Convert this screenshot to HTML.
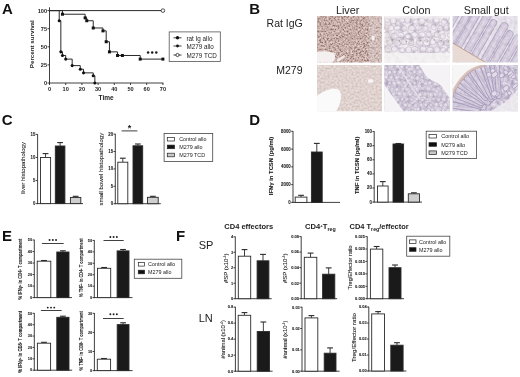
<!DOCTYPE html>
<html><head><meta charset="utf-8"><style>
html,body{margin:0;padding:0;background:#fff;width:520px;height:377px;overflow:hidden;position:relative;font-family:"Liberation Sans", sans-serif;}
</style></head><body>
<svg width="520" height="377" viewBox="0 0 520 377" style="position:absolute;left:0;top:0;filter:blur(0.4px)" font-family='"Liberation Sans", sans-serif'>
<rect width="520" height="377" fill="#fff"/>
<text x="1.90" y="13.80" font-size="15" text-anchor="start" font-weight="bold" fill="#111" >A</text>
<text x="249.20" y="13.80" font-size="15" text-anchor="start" font-weight="bold" fill="#111" >B</text>
<text x="1.70" y="124.90" font-size="15" text-anchor="start" font-weight="bold" fill="#111" >C</text>
<text x="249.20" y="124.90" font-size="15" text-anchor="start" font-weight="bold" fill="#111" >D</text>
<text x="1.90" y="240.60" font-size="15" text-anchor="start" font-weight="bold" fill="#111" >E</text>
<text x="176.00" y="240.60" font-size="15" text-anchor="start" font-weight="bold" fill="#111" >F</text>
<line x1="49.50" y1="7.30" x2="49.50" y2="83.50" stroke="#2a2a2a" stroke-width="0.9"/>
<line x1="49.00" y1="83.00" x2="163.40" y2="83.00" stroke="#2a2a2a" stroke-width="0.9"/>
<line x1="47.50" y1="83.00" x2="49.50" y2="83.00" stroke="#2a2a2a" stroke-width="0.9"/>
<text x="47.10" y="85.00" font-size="5.6" text-anchor="end" font-weight="bold" fill="#222" >0</text>
<line x1="47.50" y1="64.90" x2="49.50" y2="64.90" stroke="#2a2a2a" stroke-width="0.9"/>
<text x="47.10" y="66.90" font-size="5.6" text-anchor="end" font-weight="bold" fill="#222" >25</text>
<line x1="47.50" y1="46.80" x2="49.50" y2="46.80" stroke="#2a2a2a" stroke-width="0.9"/>
<text x="47.10" y="48.80" font-size="5.6" text-anchor="end" font-weight="bold" fill="#222" >50</text>
<line x1="47.50" y1="28.70" x2="49.50" y2="28.70" stroke="#2a2a2a" stroke-width="0.9"/>
<text x="47.10" y="30.70" font-size="5.6" text-anchor="end" font-weight="bold" fill="#222" >75</text>
<line x1="47.50" y1="10.60" x2="49.50" y2="10.60" stroke="#2a2a2a" stroke-width="0.9"/>
<text x="47.10" y="12.60" font-size="5.6" text-anchor="end" font-weight="bold" fill="#222" >100</text>
<line x1="49.50" y1="83.00" x2="49.50" y2="85.00" stroke="#2a2a2a" stroke-width="0.9"/>
<text x="49.50" y="91.00" font-size="5.6" text-anchor="middle" font-weight="bold" fill="#222" >0</text>
<line x1="65.70" y1="83.00" x2="65.70" y2="85.00" stroke="#2a2a2a" stroke-width="0.9"/>
<text x="65.70" y="91.00" font-size="5.6" text-anchor="middle" font-weight="bold" fill="#222" >10</text>
<line x1="81.90" y1="83.00" x2="81.90" y2="85.00" stroke="#2a2a2a" stroke-width="0.9"/>
<text x="81.90" y="91.00" font-size="5.6" text-anchor="middle" font-weight="bold" fill="#222" >20</text>
<line x1="98.10" y1="83.00" x2="98.10" y2="85.00" stroke="#2a2a2a" stroke-width="0.9"/>
<text x="98.10" y="91.00" font-size="5.6" text-anchor="middle" font-weight="bold" fill="#222" >30</text>
<line x1="114.30" y1="83.00" x2="114.30" y2="85.00" stroke="#2a2a2a" stroke-width="0.9"/>
<text x="114.30" y="91.00" font-size="5.6" text-anchor="middle" font-weight="bold" fill="#222" >40</text>
<line x1="130.50" y1="83.00" x2="130.50" y2="85.00" stroke="#2a2a2a" stroke-width="0.9"/>
<text x="130.50" y="91.00" font-size="5.6" text-anchor="middle" font-weight="bold" fill="#222" >50</text>
<line x1="146.70" y1="83.00" x2="146.70" y2="85.00" stroke="#2a2a2a" stroke-width="0.9"/>
<text x="146.70" y="91.00" font-size="5.6" text-anchor="middle" font-weight="bold" fill="#222" >60</text>
<line x1="162.90" y1="83.00" x2="162.90" y2="85.00" stroke="#2a2a2a" stroke-width="0.9"/>
<text x="162.90" y="91.00" font-size="5.6" text-anchor="middle" font-weight="bold" fill="#222" >70</text>
<text x="106.10" y="99.90" font-size="6.5" text-anchor="middle" font-weight="bold" fill="#222" >Time</text>
<text x="34.20" y="44.20" font-size="6.2" text-anchor="middle" font-weight="bold" fill="#222" textLength="48.00" lengthAdjust="spacingAndGlyphs" transform="rotate(-90 34.20 44.20)" >Percent survival</text>
<line x1="49.50" y1="10.60" x2="162.90" y2="10.60" stroke="#2a2a2a" stroke-width="1.0"/>
<circle cx="162.90" cy="10.60" r="1.8" fill="#fff" stroke="#222" stroke-width="0.8"/>
<path d="M49.50,10.60 L59.22,10.60 L59.22,20.74 L60.84,20.74 L60.84,51.87 L62.46,51.87 L62.46,55.49 L65.70,55.49 L65.70,59.11 L72.18,59.11 L72.18,65.62 L80.28,65.62 L80.28,69.24 L83.52,69.24 L83.52,72.86 L93.24,72.86 L93.24,75.76 L94.86,75.76 L94.86,83.00" fill="none" stroke="#2a2a2a" stroke-width="1.0"/>
<circle cx="59.22" cy="20.74" r="1.55" fill="#111"/>
<circle cx="60.84" cy="51.87" r="1.55" fill="#111"/>
<circle cx="62.46" cy="55.49" r="1.55" fill="#111"/>
<circle cx="65.70" cy="59.11" r="1.55" fill="#111"/>
<circle cx="72.18" cy="65.62" r="1.55" fill="#111"/>
<circle cx="80.28" cy="69.24" r="1.55" fill="#111"/>
<circle cx="83.52" cy="72.86" r="1.55" fill="#111"/>
<circle cx="93.24" cy="75.76" r="1.55" fill="#111"/>
<circle cx="94.86" cy="83.00" r="1.55" fill="#111"/>
<path d="M49.50,10.60 L62.46,10.60 L62.46,14.22 L85.14,14.22 L85.14,17.84 L86.76,17.84 L86.76,20.74 L93.24,20.74 L93.24,27.98 L102.96,27.98 L102.96,30.87 L106.20,30.87 L106.20,41.73 L109.44,41.73 L109.44,51.87 L117.54,51.87 L117.54,55.49 L122.40,55.49 L122.40,55.49 L140.22,55.49 L140.22,59.11 L162.90,59.11 L162.90,59.11" fill="none" stroke="#2a2a2a" stroke-width="1.0"/>
<rect x="60.96" y="12.72" width="3" height="3" fill="#111"/>
<rect x="83.64" y="16.34" width="3" height="3" fill="#111"/>
<rect x="85.26" y="19.24" width="3" height="3" fill="#111"/>
<rect x="91.74" y="26.48" width="3" height="3" fill="#111"/>
<rect x="101.46" y="29.37" width="3" height="3" fill="#111"/>
<rect x="104.70" y="40.23" width="3" height="3" fill="#111"/>
<rect x="107.94" y="50.37" width="3" height="3" fill="#111"/>
<rect x="116.04" y="53.99" width="3" height="3" fill="#111"/>
<rect x="120.90" y="53.99" width="3" height="3" fill="#111"/>
<rect x="138.72" y="57.61" width="3" height="3" fill="#111"/>
<rect x="161.40" y="57.61" width="3" height="3" fill="#111"/>
<circle cx="148.1" cy="52.5" r="1.25" fill="#1a1a1a"/>
<circle cx="152.2" cy="52.5" r="1.25" fill="#1a1a1a"/>
<circle cx="156.3" cy="52.5" r="1.25" fill="#1a1a1a"/>
<rect x="169.20" y="31.90" width="51.10" height="29.60" fill="#fff" stroke="#555" stroke-width="0.8"/>
<line x1="173.50" y1="37.80" x2="181.50" y2="37.80" stroke="#2a2a2a" stroke-width="0.9"/>
<circle cx="177.5" cy="37.80" r="1.7" fill="#111"/>
<text x="186.50" y="40.50" font-size="6.3" text-anchor="start" font-weight="normal" fill="#222" >rat Ig allo</text>
<line x1="173.50" y1="46.00" x2="181.50" y2="46.00" stroke="#2a2a2a" stroke-width="0.9"/>
<circle cx="177.5" cy="46.00" r="1.4" fill="#111"/>
<text x="186.50" y="48.70" font-size="6.3" text-anchor="start" font-weight="normal" fill="#222" >M279 allo</text>
<line x1="173.50" y1="55.00" x2="181.50" y2="55.00" stroke="#2a2a2a" stroke-width="0.9"/>
<circle cx="177.5" cy="55.00" r="1.6" fill="#fff" stroke="#222" stroke-width="0.8"/>
<text x="186.50" y="57.70" font-size="6.3" text-anchor="start" font-weight="normal" fill="#222" >M279 TCD</text>
<text x="347.60" y="13.70" font-size="10.8" text-anchor="middle" font-weight="normal" fill="#1e1e1e" >Liver</text>
<text x="416.40" y="13.70" font-size="10.8" text-anchor="middle" font-weight="normal" fill="#1e1e1e" >Colon</text>
<text x="486.20" y="13.70" font-size="10.8" text-anchor="middle" font-weight="normal" fill="#1e1e1e" >Small gut</text>
<text x="302.80" y="26.80" font-size="10.5" text-anchor="end" font-weight="normal" fill="#222" >Rat IgG</text>
<text x="302.50" y="73.80" font-size="10.5" text-anchor="end" font-weight="normal" fill="#222" >M279</text>
<defs>
<filter id="fLT" x="0" y="0" width="1" height="1" color-interpolation-filters="sRGB" filterUnits="objectBoundingBox"><feTurbulence type="fractalNoise" baseFrequency="0.55" numOctaves="2" seed="7" result="n"/><feColorMatrix in="n" type="matrix" values="1 0 0 0 0  1 0 0 0 0  1 0 0 0 0  0 0 0 0 1" result="g"/><feComponentTransfer in="g" result="s"><feFuncR type="linear" slope="2.0" intercept="-0.5"/><feFuncG type="linear" slope="2.0" intercept="-0.5"/><feFuncB type="linear" slope="2.0" intercept="-0.5"/></feComponentTransfer><feComponentTransfer in="s"><feFuncR type="table" tableValues="0.569 0.737 0.824 0.902"/><feFuncG type="table" tableValues="0.443 0.635 0.729 0.824"/><feFuncB type="table" tableValues="0.424 0.612 0.706 0.808"/></feComponentTransfer><feGaussianBlur stdDeviation="0.6"/></filter>
<filter id="fLB" x="0" y="0" width="1" height="1" color-interpolation-filters="sRGB" filterUnits="objectBoundingBox"><feTurbulence type="fractalNoise" baseFrequency="0.5" numOctaves="3" seed="11" result="n"/><feColorMatrix in="n" type="matrix" values="1 0 0 0 0  1 0 0 0 0  1 0 0 0 0  0 0 0 0 1" result="g"/><feComponentTransfer in="g" result="s"><feFuncR type="linear" slope="1.8" intercept="-0.4"/><feFuncG type="linear" slope="1.8" intercept="-0.4"/><feFuncB type="linear" slope="1.8" intercept="-0.4"/></feComponentTransfer><feComponentTransfer in="s"><feFuncR type="table" tableValues="0.816 0.878 0.925"/><feFuncG type="table" tableValues="0.757 0.827 0.878"/><feFuncB type="table" tableValues="0.745 0.812 0.867"/></feComponentTransfer><feGaussianBlur stdDeviation="0.6"/></filter>
<filter id="fCT" x="0" y="0" width="1" height="1" color-interpolation-filters="sRGB" filterUnits="objectBoundingBox"><feTurbulence type="fractalNoise" baseFrequency="0.22" numOctaves="3" seed="5" result="n"/><feColorMatrix in="n" type="matrix" values="1 0 0 0 0  1 0 0 0 0  1 0 0 0 0  0 0 0 0 1" result="g"/><feComponentTransfer in="g" result="s"><feFuncR type="linear" slope="2.2" intercept="-0.6"/><feFuncG type="linear" slope="2.2" intercept="-0.6"/><feFuncB type="linear" slope="2.2" intercept="-0.6"/></feComponentTransfer><feComponentTransfer in="s"><feFuncR type="table" tableValues="0.745 0.855 0.922 0.957"/><feFuncG type="table" tableValues="0.706 0.824 0.894 0.941"/><feFuncB type="table" tableValues="0.753 0.863 0.918 0.957"/></feComponentTransfer><feGaussianBlur stdDeviation="0.6"/></filter>
<filter id="fCB" x="0" y="0" width="1" height="1" color-interpolation-filters="sRGB" filterUnits="objectBoundingBox"><feTurbulence type="fractalNoise" baseFrequency="0.28" numOctaves="3" seed="9" result="n"/><feColorMatrix in="n" type="matrix" values="1 0 0 0 0  1 0 0 0 0  1 0 0 0 0  0 0 0 0 1" result="g"/><feComponentTransfer in="g" result="s"><feFuncR type="linear" slope="2.0" intercept="-0.5"/><feFuncG type="linear" slope="2.0" intercept="-0.5"/><feFuncB type="linear" slope="2.0" intercept="-0.5"/></feComponentTransfer><feComponentTransfer in="s"><feFuncR type="table" tableValues="0.698 0.816 0.902"/><feFuncG type="table" tableValues="0.667 0.784 0.878"/><feFuncB type="table" tableValues="0.753 0.847 0.918"/></feComponentTransfer><feGaussianBlur stdDeviation="0.6"/></filter>
<filter id="fST" x="0" y="0" width="1" height="1" color-interpolation-filters="sRGB" filterUnits="objectBoundingBox"><feTurbulence type="fractalNoise" baseFrequency="0.28" numOctaves="3" seed="13" result="n"/><feColorMatrix in="n" type="matrix" values="1 0 0 0 0  1 0 0 0 0  1 0 0 0 0  0 0 0 0 1" result="g"/><feComponentTransfer in="g" result="s"><feFuncR type="linear" slope="2.0" intercept="-0.5"/><feFuncG type="linear" slope="2.0" intercept="-0.5"/><feFuncB type="linear" slope="2.0" intercept="-0.5"/></feComponentTransfer><feComponentTransfer in="s"><feFuncR type="table" tableValues="0.706 0.831 0.918"/><feFuncG type="table" tableValues="0.675 0.804 0.898"/><feFuncB type="table" tableValues="0.761 0.863 0.933"/></feComponentTransfer><feGaussianBlur stdDeviation="0.6"/></filter>
<filter id="fSB" x="0" y="0" width="1" height="1" color-interpolation-filters="sRGB" filterUnits="objectBoundingBox"><feTurbulence type="fractalNoise" baseFrequency="0.28" numOctaves="3" seed="17" result="n"/><feColorMatrix in="n" type="matrix" values="1 0 0 0 0  1 0 0 0 0  1 0 0 0 0  0 0 0 0 1" result="g"/><feComponentTransfer in="g" result="s"><feFuncR type="linear" slope="2.0" intercept="-0.5"/><feFuncG type="linear" slope="2.0" intercept="-0.5"/><feFuncB type="linear" slope="2.0" intercept="-0.5"/></feComponentTransfer><feComponentTransfer in="s"><feFuncR type="table" tableValues="0.675 0.808 0.910"/><feFuncG type="table" tableValues="0.643 0.776 0.886"/><feFuncB type="table" tableValues="0.745 0.847 0.925"/></feComponentTransfer><feGaussianBlur stdDeviation="0.6"/></filter>
<filter id="soft" x="-5%" y="-5%" width="110%" height="110%"><feGaussianBlur stdDeviation="0.55"/></filter>
<clipPath id="cplt"><rect x="317" y="16" width="65" height="46.5"/></clipPath>
<clipPath id="cpct"><rect x="384.3" y="16" width="65.6" height="46.5"/></clipPath>
<clipPath id="cpst"><rect x="452.6" y="16" width="65.2" height="46.5"/></clipPath>
<clipPath id="cplb"><rect x="317" y="65" width="65" height="46.3"/></clipPath>
<clipPath id="cpcb"><rect x="384.3" y="65" width="65.6" height="46.3"/></clipPath>
<clipPath id="cpsb"><rect x="452.6" y="65" width="65.2" height="46.3"/></clipPath>
</defs>
<g clip-path="url(#cplt)"><g filter="url(#soft)">
<rect x="317" y="16" width="65" height="46.5" filter="url(#fLT)"/>
<rect x="369" y="16" width="13" height="46.5" fill="#e6dcdc" opacity="0.35"/>
<path d="M317,52 Q325,50 334,53 Q337,57 333,62.5 L317,62.5 Z" fill="#f4f0ef"/>
<path d="M336,60 L344,55 L345,57 L338,62 Z" fill="#eee6e4"/>
<ellipse cx="373" cy="38" rx="1.6" ry="2.4" fill="#f6f2f2"/>
</g></g>
<g clip-path="url(#cplb)"><g filter="url(#soft)">
<rect x="317" y="65" width="65" height="46.3" filter="url(#fLB)"/>
<path d="M317,96 Q323,91 331,89 Q340,87 341,95 Q341,104 336,111.3 L317,111.3 Z" fill="#fbfafa"/>
<ellipse cx="370.5" cy="81" rx="2.6" ry="2" fill="#f8f6f6"/>
</g></g>
<g clip-path="url(#cpct)"><g filter="url(#soft)">
<rect x="384.3" y="16" width="65.6" height="46.5" filter="url(#fCT)"/>
<ellipse cx="386.8" cy="20.2" rx="2.9" ry="2.5" fill="#f1edf2" fill-opacity="0.55" stroke="#b9aec4" stroke-width="0.7" stroke-opacity="0.75"/>
<ellipse cx="393.4" cy="20.8" rx="3.3" ry="3.0" fill="#f1edf2" fill-opacity="0.55" stroke="#b9aec4" stroke-width="0.7" stroke-opacity="0.75"/>
<ellipse cx="401.8" cy="20.4" rx="3.0" ry="2.6" fill="#f1edf2" fill-opacity="0.55" stroke="#b9aec4" stroke-width="0.7" stroke-opacity="0.75"/>
<ellipse cx="407.6" cy="20.2" rx="2.8" ry="3.1" fill="#f1edf2" fill-opacity="0.55" stroke="#b9aec4" stroke-width="0.7" stroke-opacity="0.75"/>
<ellipse cx="416.0" cy="21.6" rx="3.2" ry="2.6" fill="#f1edf2" fill-opacity="0.55" stroke="#b9aec4" stroke-width="0.7" stroke-opacity="0.75"/>
<ellipse cx="421.9" cy="21.3" rx="3.2" ry="3.1" fill="#f1edf2" fill-opacity="0.55" stroke="#b9aec4" stroke-width="0.7" stroke-opacity="0.75"/>
<ellipse cx="430.1" cy="20.2" rx="3.1" ry="2.9" fill="#f1edf2" fill-opacity="0.55" stroke="#b9aec4" stroke-width="0.7" stroke-opacity="0.75"/>
<ellipse cx="436.3" cy="20.4" rx="3.0" ry="2.5" fill="#f1edf2" fill-opacity="0.55" stroke="#b9aec4" stroke-width="0.7" stroke-opacity="0.75"/>
<ellipse cx="444.2" cy="21.7" rx="3.0" ry="2.6" fill="#f1edf2" fill-opacity="0.55" stroke="#b9aec4" stroke-width="0.7" stroke-opacity="0.75"/>
<ellipse cx="451.1" cy="21.1" rx="3.3" ry="3.1" fill="#f1edf2" fill-opacity="0.55" stroke="#b9aec4" stroke-width="0.7" stroke-opacity="0.75"/>
<ellipse cx="390.8" cy="28.0" rx="3.1" ry="2.7" fill="#f1edf2" fill-opacity="0.55" stroke="#b9aec4" stroke-width="0.7" stroke-opacity="0.75"/>
<ellipse cx="397.1" cy="27.8" rx="3.3" ry="2.4" fill="#f1edf2" fill-opacity="0.55" stroke="#b9aec4" stroke-width="0.7" stroke-opacity="0.75"/>
<ellipse cx="403.9" cy="28.5" rx="2.8" ry="2.8" fill="#f1edf2" fill-opacity="0.55" stroke="#b9aec4" stroke-width="0.7" stroke-opacity="0.75"/>
<ellipse cx="411.7" cy="27.9" rx="3.4" ry="2.6" fill="#f1edf2" fill-opacity="0.55" stroke="#b9aec4" stroke-width="0.7" stroke-opacity="0.75"/>
<ellipse cx="418.6" cy="27.6" rx="3.1" ry="2.6" fill="#f1edf2" fill-opacity="0.55" stroke="#b9aec4" stroke-width="0.7" stroke-opacity="0.75"/>
<ellipse cx="425.5" cy="28.7" rx="2.9" ry="2.8" fill="#f1edf2" fill-opacity="0.55" stroke="#b9aec4" stroke-width="0.7" stroke-opacity="0.75"/>
<ellipse cx="433.6" cy="27.4" rx="2.6" ry="2.6" fill="#f1edf2" fill-opacity="0.55" stroke="#b9aec4" stroke-width="0.7" stroke-opacity="0.75"/>
<ellipse cx="440.3" cy="28.4" rx="2.8" ry="2.7" fill="#f1edf2" fill-opacity="0.55" stroke="#b9aec4" stroke-width="0.7" stroke-opacity="0.75"/>
<ellipse cx="446.2" cy="28.1" rx="2.6" ry="3.0" fill="#f1edf2" fill-opacity="0.55" stroke="#b9aec4" stroke-width="0.7" stroke-opacity="0.75"/>
<ellipse cx="454.6" cy="29.1" rx="3.2" ry="3.2" fill="#f1edf2" fill-opacity="0.55" stroke="#b9aec4" stroke-width="0.7" stroke-opacity="0.75"/>
<ellipse cx="386.3" cy="35.0" rx="3.4" ry="3.0" fill="#f1edf2" fill-opacity="0.55" stroke="#b9aec4" stroke-width="0.7" stroke-opacity="0.75"/>
<ellipse cx="394.1" cy="36.3" rx="3.1" ry="3.1" fill="#f1edf2" fill-opacity="0.55" stroke="#b9aec4" stroke-width="0.7" stroke-opacity="0.75"/>
<ellipse cx="400.9" cy="34.8" rx="3.0" ry="2.5" fill="#f1edf2" fill-opacity="0.55" stroke="#b9aec4" stroke-width="0.7" stroke-opacity="0.75"/>
<ellipse cx="408.1" cy="36.3" rx="2.9" ry="2.4" fill="#f1edf2" fill-opacity="0.55" stroke="#b9aec4" stroke-width="0.7" stroke-opacity="0.75"/>
<ellipse cx="414.4" cy="34.7" rx="3.2" ry="2.7" fill="#f1edf2" fill-opacity="0.55" stroke="#b9aec4" stroke-width="0.7" stroke-opacity="0.75"/>
<ellipse cx="421.9" cy="34.6" rx="3.4" ry="2.7" fill="#f1edf2" fill-opacity="0.55" stroke="#b9aec4" stroke-width="0.7" stroke-opacity="0.75"/>
<ellipse cx="428.7" cy="34.5" rx="2.6" ry="2.5" fill="#f1edf2" fill-opacity="0.55" stroke="#b9aec4" stroke-width="0.7" stroke-opacity="0.75"/>
<ellipse cx="436.7" cy="34.7" rx="2.6" ry="2.8" fill="#f1edf2" fill-opacity="0.55" stroke="#b9aec4" stroke-width="0.7" stroke-opacity="0.75"/>
<ellipse cx="442.8" cy="36.4" rx="2.7" ry="2.8" fill="#f1edf2" fill-opacity="0.55" stroke="#b9aec4" stroke-width="0.7" stroke-opacity="0.75"/>
<ellipse cx="450.8" cy="35.2" rx="3.4" ry="2.8" fill="#f1edf2" fill-opacity="0.55" stroke="#b9aec4" stroke-width="0.7" stroke-opacity="0.75"/>
<ellipse cx="390.3" cy="42.4" rx="2.6" ry="2.7" fill="#f1edf2" fill-opacity="0.55" stroke="#b9aec4" stroke-width="0.7" stroke-opacity="0.75"/>
<ellipse cx="397.3" cy="43.4" rx="3.3" ry="2.8" fill="#f1edf2" fill-opacity="0.55" stroke="#b9aec4" stroke-width="0.7" stroke-opacity="0.75"/>
<ellipse cx="403.9" cy="42.1" rx="2.8" ry="2.6" fill="#f1edf2" fill-opacity="0.55" stroke="#b9aec4" stroke-width="0.7" stroke-opacity="0.75"/>
<ellipse cx="411.3" cy="43.3" rx="2.7" ry="2.4" fill="#f1edf2" fill-opacity="0.55" stroke="#b9aec4" stroke-width="0.7" stroke-opacity="0.75"/>
<ellipse cx="419.7" cy="42.7" rx="3.4" ry="2.7" fill="#f1edf2" fill-opacity="0.55" stroke="#b9aec4" stroke-width="0.7" stroke-opacity="0.75"/>
<ellipse cx="426.6" cy="42.9" rx="3.2" ry="3.0" fill="#f1edf2" fill-opacity="0.55" stroke="#b9aec4" stroke-width="0.7" stroke-opacity="0.75"/>
<ellipse cx="432.8" cy="41.8" rx="2.8" ry="3.1" fill="#f1edf2" fill-opacity="0.55" stroke="#b9aec4" stroke-width="0.7" stroke-opacity="0.75"/>
<ellipse cx="440.6" cy="43.4" rx="2.9" ry="2.9" fill="#f1edf2" fill-opacity="0.55" stroke="#b9aec4" stroke-width="0.7" stroke-opacity="0.75"/>
<ellipse cx="447.4" cy="42.9" rx="3.3" ry="2.8" fill="#f1edf2" fill-opacity="0.55" stroke="#b9aec4" stroke-width="0.7" stroke-opacity="0.75"/>
<ellipse cx="454.1" cy="43.0" rx="2.8" ry="3.1" fill="#f1edf2" fill-opacity="0.55" stroke="#b9aec4" stroke-width="0.7" stroke-opacity="0.75"/>
<ellipse cx="388.2" cy="48.9" rx="3.4" ry="3.2" fill="#f1edf2" fill-opacity="0.55" stroke="#b9aec4" stroke-width="0.7" stroke-opacity="0.75"/>
<ellipse cx="394.6" cy="48.9" rx="3.3" ry="2.5" fill="#f1edf2" fill-opacity="0.55" stroke="#b9aec4" stroke-width="0.7" stroke-opacity="0.75"/>
<ellipse cx="402.2" cy="50.1" rx="2.6" ry="2.5" fill="#f1edf2" fill-opacity="0.55" stroke="#b9aec4" stroke-width="0.7" stroke-opacity="0.75"/>
<ellipse cx="408.6" cy="49.9" rx="3.2" ry="3.1" fill="#f1edf2" fill-opacity="0.55" stroke="#b9aec4" stroke-width="0.7" stroke-opacity="0.75"/>
<ellipse cx="414.7" cy="48.8" rx="3.3" ry="2.4" fill="#f1edf2" fill-opacity="0.55" stroke="#b9aec4" stroke-width="0.7" stroke-opacity="0.75"/>
<ellipse cx="423.1" cy="49.0" rx="3.2" ry="3.0" fill="#f1edf2" fill-opacity="0.55" stroke="#b9aec4" stroke-width="0.7" stroke-opacity="0.75"/>
<ellipse cx="430.1" cy="49.9" rx="3.3" ry="2.6" fill="#f1edf2" fill-opacity="0.55" stroke="#b9aec4" stroke-width="0.7" stroke-opacity="0.75"/>
<ellipse cx="436.6" cy="49.5" rx="3.3" ry="3.0" fill="#f1edf2" fill-opacity="0.55" stroke="#b9aec4" stroke-width="0.7" stroke-opacity="0.75"/>
<ellipse cx="443.2" cy="49.9" rx="2.6" ry="2.4" fill="#f1edf2" fill-opacity="0.55" stroke="#b9aec4" stroke-width="0.7" stroke-opacity="0.75"/>
<ellipse cx="450.5" cy="49.8" rx="3.3" ry="2.9" fill="#f1edf2" fill-opacity="0.55" stroke="#b9aec4" stroke-width="0.7" stroke-opacity="0.75"/>
<rect x="384.3" y="53" width="65.6" height="9.5" fill="#f5f2f3" opacity="0.88"/>
<rect x="384.3" y="16" width="7" height="37" fill="#e8dcc8" opacity="0.15"/>
<rect x="384.3" y="16" width="65.6" height="2.5" fill="#f3f0f2" opacity="0.8"/>
<circle cx="392.3" cy="40.0" r="0.8" fill="#9a7a6a" opacity="0.6"/>
<circle cx="399.3" cy="40.8" r="0.8" fill="#9a7a6a" opacity="0.6"/>
<circle cx="406.3" cy="41.6" r="0.8" fill="#9a7a6a" opacity="0.6"/>
<circle cx="413.3" cy="40.0" r="0.8" fill="#9a7a6a" opacity="0.6"/>
<circle cx="420.3" cy="40.8" r="0.8" fill="#9a7a6a" opacity="0.6"/>
<circle cx="427.3" cy="41.6" r="0.8" fill="#9a7a6a" opacity="0.6"/>
<circle cx="434.3" cy="40.0" r="0.8" fill="#9a7a6a" opacity="0.6"/>
<circle cx="441.3" cy="40.8" r="0.8" fill="#9a7a6a" opacity="0.6"/>
<circle cx="448.3" cy="41.6" r="0.8" fill="#9a7a6a" opacity="0.6"/>
</g></g>
<g clip-path="url(#cpcb)"><g filter="url(#soft)">
<rect x="384.3" y="65" width="65.6" height="46.3" filter="url(#fCB)"/>
<circle cx="385.9" cy="67.7" r="1.7" fill="#ebe6ef" fill-opacity="0.6" stroke="#aa9eba" stroke-width="0.6" stroke-opacity="0.6"/>
<circle cx="391.8" cy="66.3" r="1.8" fill="#ebe6ef" fill-opacity="0.6" stroke="#aa9eba" stroke-width="0.6" stroke-opacity="0.6"/>
<circle cx="397.5" cy="66.5" r="2.0" fill="#ebe6ef" fill-opacity="0.6" stroke="#aa9eba" stroke-width="0.6" stroke-opacity="0.6"/>
<circle cx="401.8" cy="66.9" r="1.9" fill="#ebe6ef" fill-opacity="0.6" stroke="#aa9eba" stroke-width="0.6" stroke-opacity="0.6"/>
<circle cx="406.6" cy="67.5" r="1.7" fill="#ebe6ef" fill-opacity="0.6" stroke="#aa9eba" stroke-width="0.6" stroke-opacity="0.6"/>
<circle cx="411.9" cy="66.2" r="1.8" fill="#ebe6ef" fill-opacity="0.6" stroke="#aa9eba" stroke-width="0.6" stroke-opacity="0.6"/>
<circle cx="417.4" cy="67.6" r="1.9" fill="#ebe6ef" fill-opacity="0.6" stroke="#aa9eba" stroke-width="0.6" stroke-opacity="0.6"/>
<circle cx="422.1" cy="66.6" r="2.3" fill="#ebe6ef" fill-opacity="0.6" stroke="#aa9eba" stroke-width="0.6" stroke-opacity="0.6"/>
<circle cx="427.2" cy="67.2" r="1.9" fill="#ebe6ef" fill-opacity="0.6" stroke="#aa9eba" stroke-width="0.6" stroke-opacity="0.6"/>
<circle cx="433.4" cy="66.7" r="2.1" fill="#ebe6ef" fill-opacity="0.6" stroke="#aa9eba" stroke-width="0.6" stroke-opacity="0.6"/>
<circle cx="438.3" cy="67.2" r="2.2" fill="#ebe6ef" fill-opacity="0.6" stroke="#aa9eba" stroke-width="0.6" stroke-opacity="0.6"/>
<circle cx="443.6" cy="66.4" r="1.6" fill="#ebe6ef" fill-opacity="0.6" stroke="#aa9eba" stroke-width="0.6" stroke-opacity="0.6"/>
<circle cx="449.4" cy="67.0" r="1.7" fill="#ebe6ef" fill-opacity="0.6" stroke="#aa9eba" stroke-width="0.6" stroke-opacity="0.6"/>
<circle cx="389.6" cy="72.5" r="2.1" fill="#ebe6ef" fill-opacity="0.6" stroke="#aa9eba" stroke-width="0.6" stroke-opacity="0.6"/>
<circle cx="394.7" cy="72.1" r="1.8" fill="#ebe6ef" fill-opacity="0.6" stroke="#aa9eba" stroke-width="0.6" stroke-opacity="0.6"/>
<circle cx="399.9" cy="71.8" r="2.1" fill="#ebe6ef" fill-opacity="0.6" stroke="#aa9eba" stroke-width="0.6" stroke-opacity="0.6"/>
<circle cx="403.9" cy="72.7" r="2.1" fill="#ebe6ef" fill-opacity="0.6" stroke="#aa9eba" stroke-width="0.6" stroke-opacity="0.6"/>
<circle cx="410.4" cy="72.9" r="2.0" fill="#ebe6ef" fill-opacity="0.6" stroke="#aa9eba" stroke-width="0.6" stroke-opacity="0.6"/>
<circle cx="414.4" cy="71.8" r="2.0" fill="#ebe6ef" fill-opacity="0.6" stroke="#aa9eba" stroke-width="0.6" stroke-opacity="0.6"/>
<circle cx="420.1" cy="71.7" r="2.2" fill="#ebe6ef" fill-opacity="0.6" stroke="#aa9eba" stroke-width="0.6" stroke-opacity="0.6"/>
<circle cx="425.3" cy="72.7" r="1.8" fill="#ebe6ef" fill-opacity="0.6" stroke="#aa9eba" stroke-width="0.6" stroke-opacity="0.6"/>
<circle cx="430.1" cy="71.6" r="1.8" fill="#ebe6ef" fill-opacity="0.6" stroke="#aa9eba" stroke-width="0.6" stroke-opacity="0.6"/>
<circle cx="435.3" cy="72.3" r="1.9" fill="#ebe6ef" fill-opacity="0.6" stroke="#aa9eba" stroke-width="0.6" stroke-opacity="0.6"/>
<circle cx="441.4" cy="73.0" r="1.7" fill="#ebe6ef" fill-opacity="0.6" stroke="#aa9eba" stroke-width="0.6" stroke-opacity="0.6"/>
<circle cx="445.9" cy="71.9" r="2.1" fill="#ebe6ef" fill-opacity="0.6" stroke="#aa9eba" stroke-width="0.6" stroke-opacity="0.6"/>
<circle cx="452.1" cy="71.9" r="2.1" fill="#ebe6ef" fill-opacity="0.6" stroke="#aa9eba" stroke-width="0.6" stroke-opacity="0.6"/>
<circle cx="386.0" cy="77.0" r="2.1" fill="#ebe6ef" fill-opacity="0.6" stroke="#aa9eba" stroke-width="0.6" stroke-opacity="0.6"/>
<circle cx="391.2" cy="77.3" r="1.9" fill="#ebe6ef" fill-opacity="0.6" stroke="#aa9eba" stroke-width="0.6" stroke-opacity="0.6"/>
<circle cx="396.3" cy="77.7" r="1.9" fill="#ebe6ef" fill-opacity="0.6" stroke="#aa9eba" stroke-width="0.6" stroke-opacity="0.6"/>
<circle cx="401.8" cy="77.9" r="1.8" fill="#ebe6ef" fill-opacity="0.6" stroke="#aa9eba" stroke-width="0.6" stroke-opacity="0.6"/>
<circle cx="406.5" cy="77.1" r="1.7" fill="#ebe6ef" fill-opacity="0.6" stroke="#aa9eba" stroke-width="0.6" stroke-opacity="0.6"/>
<circle cx="412.3" cy="77.6" r="2.2" fill="#ebe6ef" fill-opacity="0.6" stroke="#aa9eba" stroke-width="0.6" stroke-opacity="0.6"/>
<circle cx="417.5" cy="78.1" r="2.3" fill="#ebe6ef" fill-opacity="0.6" stroke="#aa9eba" stroke-width="0.6" stroke-opacity="0.6"/>
<circle cx="422.0" cy="77.0" r="1.7" fill="#ebe6ef" fill-opacity="0.6" stroke="#aa9eba" stroke-width="0.6" stroke-opacity="0.6"/>
<circle cx="427.7" cy="77.9" r="2.1" fill="#ebe6ef" fill-opacity="0.6" stroke="#aa9eba" stroke-width="0.6" stroke-opacity="0.6"/>
<circle cx="432.9" cy="78.5" r="1.6" fill="#ebe6ef" fill-opacity="0.6" stroke="#aa9eba" stroke-width="0.6" stroke-opacity="0.6"/>
<circle cx="438.8" cy="77.3" r="2.2" fill="#ebe6ef" fill-opacity="0.6" stroke="#aa9eba" stroke-width="0.6" stroke-opacity="0.6"/>
<circle cx="442.8" cy="78.5" r="2.1" fill="#ebe6ef" fill-opacity="0.6" stroke="#aa9eba" stroke-width="0.6" stroke-opacity="0.6"/>
<circle cx="449.5" cy="77.9" r="1.7" fill="#ebe6ef" fill-opacity="0.6" stroke="#aa9eba" stroke-width="0.6" stroke-opacity="0.6"/>
<circle cx="389.7" cy="83.1" r="1.7" fill="#ebe6ef" fill-opacity="0.6" stroke="#aa9eba" stroke-width="0.6" stroke-opacity="0.6"/>
<circle cx="394.3" cy="83.2" r="1.9" fill="#ebe6ef" fill-opacity="0.6" stroke="#aa9eba" stroke-width="0.6" stroke-opacity="0.6"/>
<circle cx="398.7" cy="82.6" r="2.0" fill="#ebe6ef" fill-opacity="0.6" stroke="#aa9eba" stroke-width="0.6" stroke-opacity="0.6"/>
<circle cx="404.4" cy="82.6" r="1.9" fill="#ebe6ef" fill-opacity="0.6" stroke="#aa9eba" stroke-width="0.6" stroke-opacity="0.6"/>
<circle cx="410.1" cy="83.5" r="1.9" fill="#ebe6ef" fill-opacity="0.6" stroke="#aa9eba" stroke-width="0.6" stroke-opacity="0.6"/>
<circle cx="414.7" cy="83.0" r="1.8" fill="#ebe6ef" fill-opacity="0.6" stroke="#aa9eba" stroke-width="0.6" stroke-opacity="0.6"/>
<circle cx="419.6" cy="83.1" r="1.7" fill="#ebe6ef" fill-opacity="0.6" stroke="#aa9eba" stroke-width="0.6" stroke-opacity="0.6"/>
<circle cx="425.7" cy="83.5" r="2.0" fill="#ebe6ef" fill-opacity="0.6" stroke="#aa9eba" stroke-width="0.6" stroke-opacity="0.6"/>
<circle cx="429.7" cy="83.0" r="1.9" fill="#ebe6ef" fill-opacity="0.6" stroke="#aa9eba" stroke-width="0.6" stroke-opacity="0.6"/>
<circle cx="435.0" cy="83.9" r="2.1" fill="#ebe6ef" fill-opacity="0.6" stroke="#aa9eba" stroke-width="0.6" stroke-opacity="0.6"/>
<circle cx="440.9" cy="83.5" r="1.7" fill="#ebe6ef" fill-opacity="0.6" stroke="#aa9eba" stroke-width="0.6" stroke-opacity="0.6"/>
<circle cx="445.7" cy="83.2" r="2.1" fill="#ebe6ef" fill-opacity="0.6" stroke="#aa9eba" stroke-width="0.6" stroke-opacity="0.6"/>
<circle cx="451.5" cy="82.4" r="2.0" fill="#ebe6ef" fill-opacity="0.6" stroke="#aa9eba" stroke-width="0.6" stroke-opacity="0.6"/>
<circle cx="387.0" cy="89.0" r="2.2" fill="#ebe6ef" fill-opacity="0.6" stroke="#aa9eba" stroke-width="0.6" stroke-opacity="0.6"/>
<circle cx="392.3" cy="88.2" r="1.8" fill="#ebe6ef" fill-opacity="0.6" stroke="#aa9eba" stroke-width="0.6" stroke-opacity="0.6"/>
<circle cx="396.8" cy="89.4" r="1.9" fill="#ebe6ef" fill-opacity="0.6" stroke="#aa9eba" stroke-width="0.6" stroke-opacity="0.6"/>
<circle cx="402.6" cy="89.2" r="2.0" fill="#ebe6ef" fill-opacity="0.6" stroke="#aa9eba" stroke-width="0.6" stroke-opacity="0.6"/>
<circle cx="407.3" cy="89.3" r="2.1" fill="#ebe6ef" fill-opacity="0.6" stroke="#aa9eba" stroke-width="0.6" stroke-opacity="0.6"/>
<circle cx="412.0" cy="89.2" r="1.7" fill="#ebe6ef" fill-opacity="0.6" stroke="#aa9eba" stroke-width="0.6" stroke-opacity="0.6"/>
<circle cx="417.3" cy="89.3" r="2.2" fill="#ebe6ef" fill-opacity="0.6" stroke="#aa9eba" stroke-width="0.6" stroke-opacity="0.6"/>
<circle cx="422.4" cy="88.3" r="2.0" fill="#ebe6ef" fill-opacity="0.6" stroke="#aa9eba" stroke-width="0.6" stroke-opacity="0.6"/>
<circle cx="428.4" cy="88.9" r="2.3" fill="#ebe6ef" fill-opacity="0.6" stroke="#aa9eba" stroke-width="0.6" stroke-opacity="0.6"/>
<circle cx="433.5" cy="89.1" r="2.0" fill="#ebe6ef" fill-opacity="0.6" stroke="#aa9eba" stroke-width="0.6" stroke-opacity="0.6"/>
<circle cx="438.1" cy="88.5" r="1.9" fill="#ebe6ef" fill-opacity="0.6" stroke="#aa9eba" stroke-width="0.6" stroke-opacity="0.6"/>
<circle cx="443.5" cy="89.1" r="1.8" fill="#ebe6ef" fill-opacity="0.6" stroke="#aa9eba" stroke-width="0.6" stroke-opacity="0.6"/>
<circle cx="448.0" cy="89.0" r="1.8" fill="#ebe6ef" fill-opacity="0.6" stroke="#aa9eba" stroke-width="0.6" stroke-opacity="0.6"/>
<circle cx="388.8" cy="93.4" r="2.2" fill="#ebe6ef" fill-opacity="0.6" stroke="#aa9eba" stroke-width="0.6" stroke-opacity="0.6"/>
<circle cx="393.7" cy="93.7" r="2.2" fill="#ebe6ef" fill-opacity="0.6" stroke="#aa9eba" stroke-width="0.6" stroke-opacity="0.6"/>
<circle cx="399.3" cy="93.6" r="2.2" fill="#ebe6ef" fill-opacity="0.6" stroke="#aa9eba" stroke-width="0.6" stroke-opacity="0.6"/>
<circle cx="404.4" cy="93.8" r="2.3" fill="#ebe6ef" fill-opacity="0.6" stroke="#aa9eba" stroke-width="0.6" stroke-opacity="0.6"/>
<circle cx="410.2" cy="94.4" r="1.8" fill="#ebe6ef" fill-opacity="0.6" stroke="#aa9eba" stroke-width="0.6" stroke-opacity="0.6"/>
<circle cx="415.4" cy="94.2" r="2.2" fill="#ebe6ef" fill-opacity="0.6" stroke="#aa9eba" stroke-width="0.6" stroke-opacity="0.6"/>
<circle cx="419.9" cy="94.4" r="2.2" fill="#ebe6ef" fill-opacity="0.6" stroke="#aa9eba" stroke-width="0.6" stroke-opacity="0.6"/>
<circle cx="425.1" cy="94.2" r="2.1" fill="#ebe6ef" fill-opacity="0.6" stroke="#aa9eba" stroke-width="0.6" stroke-opacity="0.6"/>
<circle cx="431.3" cy="94.7" r="2.2" fill="#ebe6ef" fill-opacity="0.6" stroke="#aa9eba" stroke-width="0.6" stroke-opacity="0.6"/>
<circle cx="435.1" cy="94.2" r="2.1" fill="#ebe6ef" fill-opacity="0.6" stroke="#aa9eba" stroke-width="0.6" stroke-opacity="0.6"/>
<circle cx="440.2" cy="93.9" r="2.2" fill="#ebe6ef" fill-opacity="0.6" stroke="#aa9eba" stroke-width="0.6" stroke-opacity="0.6"/>
<circle cx="446.7" cy="94.7" r="1.7" fill="#ebe6ef" fill-opacity="0.6" stroke="#aa9eba" stroke-width="0.6" stroke-opacity="0.6"/>
<circle cx="451.5" cy="94.6" r="2.1" fill="#ebe6ef" fill-opacity="0.6" stroke="#aa9eba" stroke-width="0.6" stroke-opacity="0.6"/>
<circle cx="386.0" cy="98.7" r="2.2" fill="#ebe6ef" fill-opacity="0.6" stroke="#aa9eba" stroke-width="0.6" stroke-opacity="0.6"/>
<circle cx="392.1" cy="99.6" r="1.9" fill="#ebe6ef" fill-opacity="0.6" stroke="#aa9eba" stroke-width="0.6" stroke-opacity="0.6"/>
<circle cx="397.2" cy="99.9" r="2.1" fill="#ebe6ef" fill-opacity="0.6" stroke="#aa9eba" stroke-width="0.6" stroke-opacity="0.6"/>
<circle cx="402.1" cy="99.1" r="1.8" fill="#ebe6ef" fill-opacity="0.6" stroke="#aa9eba" stroke-width="0.6" stroke-opacity="0.6"/>
<circle cx="406.9" cy="99.1" r="2.0" fill="#ebe6ef" fill-opacity="0.6" stroke="#aa9eba" stroke-width="0.6" stroke-opacity="0.6"/>
<circle cx="411.7" cy="99.8" r="1.8" fill="#ebe6ef" fill-opacity="0.6" stroke="#aa9eba" stroke-width="0.6" stroke-opacity="0.6"/>
<circle cx="417.0" cy="99.0" r="1.9" fill="#ebe6ef" fill-opacity="0.6" stroke="#aa9eba" stroke-width="0.6" stroke-opacity="0.6"/>
<circle cx="422.6" cy="99.9" r="1.7" fill="#ebe6ef" fill-opacity="0.6" stroke="#aa9eba" stroke-width="0.6" stroke-opacity="0.6"/>
<circle cx="427.5" cy="99.1" r="1.7" fill="#ebe6ef" fill-opacity="0.6" stroke="#aa9eba" stroke-width="0.6" stroke-opacity="0.6"/>
<circle cx="433.5" cy="98.8" r="1.6" fill="#ebe6ef" fill-opacity="0.6" stroke="#aa9eba" stroke-width="0.6" stroke-opacity="0.6"/>
<circle cx="438.4" cy="99.8" r="2.2" fill="#ebe6ef" fill-opacity="0.6" stroke="#aa9eba" stroke-width="0.6" stroke-opacity="0.6"/>
<circle cx="443.6" cy="99.1" r="2.2" fill="#ebe6ef" fill-opacity="0.6" stroke="#aa9eba" stroke-width="0.6" stroke-opacity="0.6"/>
<circle cx="449.1" cy="99.4" r="2.0" fill="#ebe6ef" fill-opacity="0.6" stroke="#aa9eba" stroke-width="0.6" stroke-opacity="0.6"/>
<circle cx="389.6" cy="105.6" r="2.3" fill="#ebe6ef" fill-opacity="0.6" stroke="#aa9eba" stroke-width="0.6" stroke-opacity="0.6"/>
<circle cx="393.5" cy="104.5" r="1.9" fill="#ebe6ef" fill-opacity="0.6" stroke="#aa9eba" stroke-width="0.6" stroke-opacity="0.6"/>
<circle cx="398.8" cy="105.2" r="1.6" fill="#ebe6ef" fill-opacity="0.6" stroke="#aa9eba" stroke-width="0.6" stroke-opacity="0.6"/>
<circle cx="405.1" cy="104.9" r="2.0" fill="#ebe6ef" fill-opacity="0.6" stroke="#aa9eba" stroke-width="0.6" stroke-opacity="0.6"/>
<circle cx="409.6" cy="105.5" r="2.0" fill="#ebe6ef" fill-opacity="0.6" stroke="#aa9eba" stroke-width="0.6" stroke-opacity="0.6"/>
<circle cx="415.5" cy="105.5" r="2.1" fill="#ebe6ef" fill-opacity="0.6" stroke="#aa9eba" stroke-width="0.6" stroke-opacity="0.6"/>
<circle cx="420.9" cy="104.8" r="1.9" fill="#ebe6ef" fill-opacity="0.6" stroke="#aa9eba" stroke-width="0.6" stroke-opacity="0.6"/>
<circle cx="425.9" cy="104.8" r="1.8" fill="#ebe6ef" fill-opacity="0.6" stroke="#aa9eba" stroke-width="0.6" stroke-opacity="0.6"/>
<circle cx="430.8" cy="104.8" r="1.7" fill="#ebe6ef" fill-opacity="0.6" stroke="#aa9eba" stroke-width="0.6" stroke-opacity="0.6"/>
<circle cx="436.2" cy="104.8" r="2.3" fill="#ebe6ef" fill-opacity="0.6" stroke="#aa9eba" stroke-width="0.6" stroke-opacity="0.6"/>
<circle cx="441.0" cy="105.5" r="1.8" fill="#ebe6ef" fill-opacity="0.6" stroke="#aa9eba" stroke-width="0.6" stroke-opacity="0.6"/>
<circle cx="445.6" cy="104.8" r="2.1" fill="#ebe6ef" fill-opacity="0.6" stroke="#aa9eba" stroke-width="0.6" stroke-opacity="0.6"/>
<circle cx="451.8" cy="105.0" r="1.7" fill="#ebe6ef" fill-opacity="0.6" stroke="#aa9eba" stroke-width="0.6" stroke-opacity="0.6"/>
<circle cx="386.1" cy="109.5" r="1.9" fill="#ebe6ef" fill-opacity="0.6" stroke="#aa9eba" stroke-width="0.6" stroke-opacity="0.6"/>
<circle cx="392.2" cy="110.0" r="2.1" fill="#ebe6ef" fill-opacity="0.6" stroke="#aa9eba" stroke-width="0.6" stroke-opacity="0.6"/>
<circle cx="396.9" cy="109.6" r="2.1" fill="#ebe6ef" fill-opacity="0.6" stroke="#aa9eba" stroke-width="0.6" stroke-opacity="0.6"/>
<circle cx="401.2" cy="109.7" r="2.0" fill="#ebe6ef" fill-opacity="0.6" stroke="#aa9eba" stroke-width="0.6" stroke-opacity="0.6"/>
<circle cx="406.5" cy="110.9" r="1.9" fill="#ebe6ef" fill-opacity="0.6" stroke="#aa9eba" stroke-width="0.6" stroke-opacity="0.6"/>
<circle cx="412.5" cy="110.9" r="1.7" fill="#ebe6ef" fill-opacity="0.6" stroke="#aa9eba" stroke-width="0.6" stroke-opacity="0.6"/>
<circle cx="418.3" cy="109.5" r="2.0" fill="#ebe6ef" fill-opacity="0.6" stroke="#aa9eba" stroke-width="0.6" stroke-opacity="0.6"/>
<circle cx="422.9" cy="111.0" r="1.9" fill="#ebe6ef" fill-opacity="0.6" stroke="#aa9eba" stroke-width="0.6" stroke-opacity="0.6"/>
<circle cx="428.6" cy="110.4" r="1.9" fill="#ebe6ef" fill-opacity="0.6" stroke="#aa9eba" stroke-width="0.6" stroke-opacity="0.6"/>
<circle cx="432.6" cy="109.8" r="1.9" fill="#ebe6ef" fill-opacity="0.6" stroke="#aa9eba" stroke-width="0.6" stroke-opacity="0.6"/>
<circle cx="438.1" cy="110.0" r="2.2" fill="#ebe6ef" fill-opacity="0.6" stroke="#aa9eba" stroke-width="0.6" stroke-opacity="0.6"/>
<circle cx="443.3" cy="110.4" r="1.6" fill="#ebe6ef" fill-opacity="0.6" stroke="#aa9eba" stroke-width="0.6" stroke-opacity="0.6"/>
<circle cx="448.1" cy="110.5" r="2.2" fill="#ebe6ef" fill-opacity="0.6" stroke="#aa9eba" stroke-width="0.6" stroke-opacity="0.6"/>
<path d="M419.3,65 L449.9,65 L449.9,99 Q448.3,95 445.3,92 Q441.3,84 435.3,82 Q428.3,79 425.3,75 Z" fill="#f5f3f5"/>
<path d="M384.3,85 L395.3,100 L403.3,111.3 L384.3,111.3 Z" fill="#f5f3f5"/>
<path d="M397.3,65 L420.3,100" stroke="#eeeaf0" stroke-width="1.3" opacity="0.8"/>
</g></g>
<g clip-path="url(#cpst)"><g filter="url(#soft)">
<rect x="452.6" y="16" width="65.2" height="46.5" fill="#f0edf2"/>
<rect x="442.6" y="-14.3" width="7.0" height="69.5" rx="3.5" transform="rotate(30 446.2 10.4)" fill="#d4cbdd" stroke="#a396b8" stroke-width="0.9"/>
<line x1="446.2" y1="-11.3" x2="446.2" y2="55.2" transform="rotate(30 446.2 10.4)" stroke="#e6e0ea" stroke-width="1.5" opacity="0.8"/>
<rect x="450.3" y="-5.6" width="7.2" height="65.7" rx="3.6" transform="rotate(30 453.9 17.2)" fill="#d4cbdd" stroke="#a396b8" stroke-width="0.9"/>
<line x1="453.9" y1="-2.6" x2="453.9" y2="60.1" transform="rotate(30 453.9 17.2)" stroke="#e6e0ea" stroke-width="1.5" opacity="0.8"/>
<rect x="459.8" y="-2.7" width="6.9" height="68.1" rx="3.5" transform="rotate(30 463.3 21.4)" fill="#d4cbdd" stroke="#a396b8" stroke-width="0.9"/>
<line x1="463.3" y1="0.3" x2="463.3" y2="65.4" transform="rotate(30 463.3 21.4)" stroke="#e6e0ea" stroke-width="1.5" opacity="0.8"/>
<rect x="465.8" y="5.2" width="6.8" height="64.0" rx="3.4" transform="rotate(30 469.2 27.2)" fill="#d4cbdd" stroke="#a396b8" stroke-width="0.9"/>
<line x1="469.2" y1="8.2" x2="469.2" y2="69.2" transform="rotate(30 469.2 27.2)" stroke="#e6e0ea" stroke-width="1.5" opacity="0.8"/>
<rect x="474.5" y="9.9" width="7.2" height="64.6" rx="3.6" transform="rotate(30 478.1 32.2)" fill="#d4cbdd" stroke="#a396b8" stroke-width="0.9"/>
<line x1="478.1" y1="12.9" x2="478.1" y2="74.5" transform="rotate(30 478.1 32.2)" stroke="#e6e0ea" stroke-width="1.5" opacity="0.8"/>
<rect x="481.5" y="17.2" width="6.4" height="61.4" rx="3.2" transform="rotate(30 484.7 37.9)" fill="#d4cbdd" stroke="#a396b8" stroke-width="0.9"/>
<line x1="484.7" y1="20.2" x2="484.7" y2="78.6" transform="rotate(30 484.7 37.9)" stroke="#e6e0ea" stroke-width="1.5" opacity="0.8"/>
<rect x="491.4" y="20.1" width="7.3" height="64.4" rx="3.6" transform="rotate(30 495.1 42.3)" fill="#d4cbdd" stroke="#a396b8" stroke-width="0.9"/>
<line x1="495.1" y1="23.1" x2="495.1" y2="84.5" transform="rotate(30 495.1 42.3)" stroke="#e6e0ea" stroke-width="1.5" opacity="0.8"/>
<rect x="498.0" y="28.3" width="6.7" height="60.2" rx="3.4" transform="rotate(30 501.3 48.4)" fill="#d4cbdd" stroke="#a396b8" stroke-width="0.9"/>
<line x1="501.3" y1="31.3" x2="501.3" y2="88.5" transform="rotate(30 501.3 48.4)" stroke="#e6e0ea" stroke-width="1.5" opacity="0.8"/>
<rect x="505.6" y="32.5" width="7.4" height="60.7" rx="3.7" transform="rotate(30 509.3 52.9)" fill="#d4cbdd" stroke="#a396b8" stroke-width="0.9"/>
<line x1="509.3" y1="35.5" x2="509.3" y2="93.2" transform="rotate(30 509.3 52.9)" stroke="#e6e0ea" stroke-width="1.5" opacity="0.8"/>
<rect x="513.6" y="36.9" width="7.2" height="60.9" rx="3.6" transform="rotate(30 517.2 57.4)" fill="#d4cbdd" stroke="#a396b8" stroke-width="0.9"/>
<line x1="517.2" y1="39.9" x2="517.2" y2="97.9" transform="rotate(30 517.2 57.4)" stroke="#e6e0ea" stroke-width="1.5" opacity="0.8"/>
<rect x="522.5" y="37.1" width="6.9" height="65.6" rx="3.4" transform="rotate(30 525.9 59.9)" fill="#d4cbdd" stroke="#a396b8" stroke-width="0.9"/>
<line x1="525.9" y1="40.1" x2="525.9" y2="102.7" transform="rotate(30 525.9 59.9)" stroke="#e6e0ea" stroke-width="1.5" opacity="0.8"/>
<rect x="452.6" y="16" width="65.2" height="46.5" filter="url(#fST)" opacity="0.35"/>
<path d="M452.6,43 L485.6,62.5 L452.6,62.5 Z" fill="#e8dbd6"/>
<path d="M452.6,43 L485.6,62.5" stroke="#bf9a88" stroke-width="0.9"/>
</g></g>
<g clip-path="url(#cpsb)"><g filter="url(#soft)">
<rect x="452.6" y="65" width="65.2" height="46.3" filter="url(#fSB)"/>
<rect x="462.2" y="94.8" width="6.1" height="30.4" rx="3.1" transform="rotate(273.2 465.3 110.1)" fill="#d9d2e2" fill-opacity="0.5" stroke="#a396b8" stroke-width="0.8"/>
<rect x="462.3" y="91.9" width="6.2" height="30.2" rx="3.1" transform="rotate(278.3 465.5 106.9)" fill="#d9d2e2" fill-opacity="0.5" stroke="#a396b8" stroke-width="0.8"/>
<rect x="466.2" y="85.1" width="5.9" height="35.8" rx="3.0" transform="rotate(286.2 469.2 103.0)" fill="#d9d2e2" fill-opacity="0.5" stroke="#a396b8" stroke-width="0.8"/>
<rect x="465.1" y="83.6" width="6.4" height="32.0" rx="3.2" transform="rotate(291.4 468.3 99.6)" fill="#d9d2e2" fill-opacity="0.5" stroke="#a396b8" stroke-width="0.8"/>
<rect x="466.9" y="80.3" width="6.3" height="32.7" rx="3.2" transform="rotate(297.1 470.0 96.7)" fill="#d9d2e2" fill-opacity="0.5" stroke="#a396b8" stroke-width="0.8"/>
<rect x="469.9" y="76.7" width="5.4" height="34.4" rx="2.7" transform="rotate(303.4 472.6 93.9)" fill="#d9d2e2" fill-opacity="0.5" stroke="#a396b8" stroke-width="0.8"/>
<rect x="472.7" y="73.6" width="5.9" height="37.4" rx="2.9" transform="rotate(309.0 475.7 92.3)" fill="#d9d2e2" fill-opacity="0.5" stroke="#a396b8" stroke-width="0.8"/>
<rect x="473.5" y="71.5" width="6.2" height="32.9" rx="3.1" transform="rotate(315.7 476.6 88.0)" fill="#d9d2e2" fill-opacity="0.5" stroke="#a396b8" stroke-width="0.8"/>
<rect x="476.0" y="69.2" width="6.0" height="31.3" rx="3.0" transform="rotate(322.3 479.0 84.8)" fill="#d9d2e2" fill-opacity="0.5" stroke="#a396b8" stroke-width="0.8"/>
<rect x="479.2" y="67.4" width="6.4" height="37.3" rx="3.2" transform="rotate(325.9 482.4 86.1)" fill="#d9d2e2" fill-opacity="0.5" stroke="#a396b8" stroke-width="0.8"/>
<rect x="481.9" y="65.7" width="6.3" height="35.4" rx="3.1" transform="rotate(332.4 485.0 83.4)" fill="#d9d2e2" fill-opacity="0.5" stroke="#a396b8" stroke-width="0.8"/>
<rect x="486.3" y="64.0" width="5.5" height="36.5" rx="2.7" transform="rotate(339.7 489.0 82.2)" fill="#d9d2e2" fill-opacity="0.5" stroke="#a396b8" stroke-width="0.8"/>
<rect x="488.6" y="63.2" width="5.0" height="34.7" rx="2.5" transform="rotate(344.2 491.1 80.6)" fill="#d9d2e2" fill-opacity="0.5" stroke="#a396b8" stroke-width="0.8"/>
<rect x="492.1" y="62.4" width="5.6" height="34.3" rx="2.8" transform="rotate(351.1 494.9 79.6)" fill="#d9d2e2" fill-opacity="0.5" stroke="#a396b8" stroke-width="0.8"/>
<rect x="495.3" y="62.1" width="5.0" height="36.7" rx="2.5" transform="rotate(356.1 497.8 80.4)" fill="#d9d2e2" fill-opacity="0.5" stroke="#a396b8" stroke-width="0.8"/>
<ellipse cx="506.0" cy="88.3" rx="3.2" ry="2.4" transform="rotate(-40 506.0 88.3)" fill="#e2dce8" stroke="#a699ba" stroke-width="0.7"/>
<ellipse cx="509.3" cy="93.0" rx="2.0" ry="2.0" transform="rotate(-40 509.3 93.0)" fill="#e2dce8" stroke="#a699ba" stroke-width="0.7"/>
<ellipse cx="515.0" cy="85.9" rx="3.4" ry="1.6" transform="rotate(-40 515.0 85.9)" fill="#e2dce8" stroke="#a699ba" stroke-width="0.7"/>
<ellipse cx="501.7" cy="75.4" rx="2.8" ry="2.1" transform="rotate(-40 501.7 75.4)" fill="#e2dce8" stroke="#a699ba" stroke-width="0.7"/>
<ellipse cx="489.0" cy="74.6" rx="2.4" ry="2.4" transform="rotate(-40 489.0 74.6)" fill="#e2dce8" stroke="#a699ba" stroke-width="0.7"/>
<ellipse cx="510.0" cy="73.1" rx="3.2" ry="1.6" transform="rotate(-40 510.0 73.1)" fill="#e2dce8" stroke="#a699ba" stroke-width="0.7"/>
<ellipse cx="505.9" cy="72.3" rx="2.0" ry="2.4" transform="rotate(-40 505.9 72.3)" fill="#e2dce8" stroke="#a699ba" stroke-width="0.7"/>
<ellipse cx="494.5" cy="74.6" rx="3.5" ry="2.4" transform="rotate(-40 494.5 74.6)" fill="#e2dce8" stroke="#a699ba" stroke-width="0.7"/>
<ellipse cx="496.7" cy="94.0" rx="2.8" ry="2.2" transform="rotate(-40 496.7 94.0)" fill="#e2dce8" stroke="#a699ba" stroke-width="0.7"/>
<ellipse cx="494.3" cy="93.5" rx="3.0" ry="2.5" transform="rotate(-40 494.3 93.5)" fill="#e2dce8" stroke="#a699ba" stroke-width="0.7"/>
<ellipse cx="513.6" cy="76.8" rx="2.5" ry="1.7" transform="rotate(-40 513.6 76.8)" fill="#e2dce8" stroke="#a699ba" stroke-width="0.7"/>
<ellipse cx="492.7" cy="70.7" rx="2.5" ry="2.1" transform="rotate(-40 492.7 70.7)" fill="#e2dce8" stroke="#a699ba" stroke-width="0.7"/>
<path d="M452.6,65 L484.6,65 Q470.6,68 464.6,75 Q456.6,83 452.6,93 Z" fill="#f7f6f7"/>
<path d="M484.6,65 Q470.6,68 464.6,75 Q456.6,83 452.6,93" fill="none" stroke="#d9c0b8" stroke-width="2.2"/>
<path d="M486.6,65 Q472.6,68.5 466.1,76 Q458.1,84 452.6,95.5" fill="none" stroke="#c7aaa2" stroke-width="0.6"/>
<path d="M490.6,111.3 L517.8000000000001,111.3 L517.8000000000001,89 Q508.6,101 500.6,105 Z" fill="#f2f0f3" opacity="0.8"/>
</g></g>
<line x1="37.60" y1="134.10" x2="37.60" y2="204.05" stroke="#2a2a2a" stroke-width="0.9"/>
<line x1="37.15" y1="203.60" x2="83.00" y2="203.60" stroke="#2a2a2a" stroke-width="0.9"/>
<line x1="35.80" y1="203.60" x2="37.60" y2="203.60" stroke="#2a2a2a" stroke-width="0.9"/>
<text x="35.40" y="205.04" font-size="4.8" text-anchor="end" font-weight="bold" fill="#222" textLength="2.40" lengthAdjust="spacingAndGlyphs" stroke="#222" stroke-width="0.08">0</text>
<line x1="35.80" y1="180.53" x2="37.60" y2="180.53" stroke="#2a2a2a" stroke-width="0.9"/>
<text x="35.40" y="181.97" font-size="4.8" text-anchor="end" font-weight="bold" fill="#222" textLength="2.40" lengthAdjust="spacingAndGlyphs" stroke="#222" stroke-width="0.08">5</text>
<line x1="35.80" y1="157.47" x2="37.60" y2="157.47" stroke="#2a2a2a" stroke-width="0.9"/>
<text x="35.40" y="158.91" font-size="4.8" text-anchor="end" font-weight="bold" fill="#222" textLength="4.80" lengthAdjust="spacingAndGlyphs" stroke="#222" stroke-width="0.08">10</text>
<line x1="35.80" y1="134.40" x2="37.60" y2="134.40" stroke="#2a2a2a" stroke-width="0.9"/>
<text x="35.40" y="135.84" font-size="4.8" text-anchor="end" font-weight="bold" fill="#222" textLength="4.80" lengthAdjust="spacingAndGlyphs" stroke="#222" stroke-width="0.08">15</text>
<line x1="45.55" y1="157.50" x2="45.55" y2="153.60" stroke="#2a2a2a" stroke-width="0.9"/>
<line x1="42.65" y1="153.60" x2="48.45" y2="153.60" stroke="#2a2a2a" stroke-width="1.1"/>
<rect x="40.50" y="157.50" width="10.10" height="46.10" fill="#fff" stroke="#2a2a2a" stroke-width="0.9"/>
<line x1="60.10" y1="146.00" x2="60.10" y2="142.60" stroke="#2a2a2a" stroke-width="0.9"/>
<line x1="57.20" y1="142.60" x2="63.00" y2="142.60" stroke="#2a2a2a" stroke-width="1.1"/>
<rect x="55.30" y="146.00" width="9.60" height="57.60" fill="#1a1a1a" stroke="#2a2a2a" stroke-width="0.9"/>
<line x1="75.60" y1="197.50" x2="75.60" y2="196.30" stroke="#2a2a2a" stroke-width="0.9"/>
<line x1="72.70" y1="196.30" x2="78.50" y2="196.30" stroke="#2a2a2a" stroke-width="1.1"/>
<rect x="70.40" y="197.50" width="10.40" height="6.10" fill="#cfcfcf" stroke="#2a2a2a" stroke-width="0.9"/>
<text x="25.30" y="167.95" font-size="5.6" text-anchor="middle" font-weight="normal" fill="#222" textLength="51.70" lengthAdjust="spacingAndGlyphs" transform="rotate(-90 25.30 167.95)" stroke="#222" stroke-width="0.08">liver histopathology</text>
<line x1="115.30" y1="133.80" x2="115.30" y2="204.15" stroke="#2a2a2a" stroke-width="0.9"/>
<line x1="114.85" y1="203.70" x2="160.80" y2="203.70" stroke="#2a2a2a" stroke-width="0.9"/>
<line x1="113.50" y1="203.70" x2="115.30" y2="203.70" stroke="#2a2a2a" stroke-width="0.9"/>
<text x="113.10" y="205.14" font-size="4.8" text-anchor="end" font-weight="bold" fill="#222" textLength="2.40" lengthAdjust="spacingAndGlyphs" stroke="#222" stroke-width="0.08">0</text>
<line x1="113.50" y1="186.30" x2="115.30" y2="186.30" stroke="#2a2a2a" stroke-width="0.9"/>
<text x="113.10" y="187.74" font-size="4.8" text-anchor="end" font-weight="bold" fill="#222" textLength="2.40" lengthAdjust="spacingAndGlyphs" stroke="#222" stroke-width="0.08">5</text>
<line x1="113.50" y1="168.90" x2="115.30" y2="168.90" stroke="#2a2a2a" stroke-width="0.9"/>
<text x="113.10" y="170.34" font-size="4.8" text-anchor="end" font-weight="bold" fill="#222" textLength="4.80" lengthAdjust="spacingAndGlyphs" stroke="#222" stroke-width="0.08">10</text>
<line x1="113.50" y1="151.50" x2="115.30" y2="151.50" stroke="#2a2a2a" stroke-width="0.9"/>
<text x="113.10" y="152.94" font-size="4.8" text-anchor="end" font-weight="bold" fill="#222" textLength="4.80" lengthAdjust="spacingAndGlyphs" stroke="#222" stroke-width="0.08">15</text>
<line x1="113.50" y1="134.10" x2="115.30" y2="134.10" stroke="#2a2a2a" stroke-width="0.9"/>
<text x="113.10" y="135.54" font-size="4.8" text-anchor="end" font-weight="bold" fill="#222" textLength="4.80" lengthAdjust="spacingAndGlyphs" stroke="#222" stroke-width="0.08">20</text>
<line x1="122.80" y1="162.20" x2="122.80" y2="158.20" stroke="#2a2a2a" stroke-width="0.9"/>
<line x1="119.90" y1="158.20" x2="125.70" y2="158.20" stroke="#2a2a2a" stroke-width="1.1"/>
<rect x="117.80" y="162.20" width="10.00" height="41.50" fill="#fff" stroke="#2a2a2a" stroke-width="0.9"/>
<line x1="137.85" y1="145.80" x2="137.85" y2="144.00" stroke="#2a2a2a" stroke-width="0.9"/>
<line x1="134.95" y1="144.00" x2="140.75" y2="144.00" stroke="#2a2a2a" stroke-width="1.1"/>
<rect x="133.00" y="145.80" width="9.70" height="57.90" fill="#1a1a1a" stroke="#2a2a2a" stroke-width="0.9"/>
<line x1="152.85" y1="197.30" x2="152.85" y2="196.30" stroke="#2a2a2a" stroke-width="0.9"/>
<line x1="149.95" y1="196.30" x2="155.75" y2="196.30" stroke="#2a2a2a" stroke-width="1.1"/>
<rect x="147.50" y="197.30" width="10.70" height="6.40" fill="#cfcfcf" stroke="#2a2a2a" stroke-width="0.9"/>
<text x="103.00" y="169.10" font-size="5.6" text-anchor="middle" font-weight="normal" fill="#222" textLength="72.60" lengthAdjust="spacingAndGlyphs" transform="rotate(-90 103.00 169.10)" stroke="#222" stroke-width="0.08">small bowel histopathology</text>
<line x1="121.60" y1="130.90" x2="137.40" y2="130.90" stroke="#2a2a2a" stroke-width="0.9"/>
<text x="129.50" y="131.30" font-size="9" text-anchor="middle" font-weight="bold" fill="#222" >*</text>
<rect x="164.10" y="133.40" width="48.60" height="28.00" fill="#fff" stroke="#444" stroke-width="0.8"/>
<rect x="167.30" y="137.40" width="7.20" height="3.60" fill="#fff" stroke="#222" stroke-width="0.7"/>
<text x="179.20" y="141.20" font-size="5.4" text-anchor="start" font-weight="normal" fill="#222" >Control allo</text>
<rect x="167.30" y="145.10" width="7.20" height="3.60" fill="#111" stroke="#222" stroke-width="0.7"/>
<text x="179.20" y="148.90" font-size="5.4" text-anchor="start" font-weight="normal" fill="#222" >M279 allo</text>
<rect x="167.30" y="153.20" width="7.20" height="3.60" fill="#c8c8c8" stroke="#222" stroke-width="0.7"/>
<text x="179.20" y="157.00" font-size="5.4" text-anchor="start" font-weight="normal" fill="#222" >M279 TCD</text>
<line x1="293.00" y1="131.00" x2="293.00" y2="202.85" stroke="#2a2a2a" stroke-width="0.9"/>
<line x1="292.55" y1="202.40" x2="340.00" y2="202.40" stroke="#2a2a2a" stroke-width="0.9"/>
<line x1="291.20" y1="202.40" x2="293.00" y2="202.40" stroke="#2a2a2a" stroke-width="0.9"/>
<text x="290.80" y="203.87" font-size="4.9" text-anchor="end" font-weight="bold" fill="#222" textLength="2.45" lengthAdjust="spacingAndGlyphs" stroke="#222" stroke-width="0.08">0</text>
<line x1="291.20" y1="184.62" x2="293.00" y2="184.62" stroke="#2a2a2a" stroke-width="0.9"/>
<text x="290.80" y="186.09" font-size="4.9" text-anchor="end" font-weight="bold" fill="#222" textLength="9.80" lengthAdjust="spacingAndGlyphs" stroke="#222" stroke-width="0.08">2000</text>
<line x1="291.20" y1="166.85" x2="293.00" y2="166.85" stroke="#2a2a2a" stroke-width="0.9"/>
<text x="290.80" y="168.32" font-size="4.9" text-anchor="end" font-weight="bold" fill="#222" textLength="9.80" lengthAdjust="spacingAndGlyphs" stroke="#222" stroke-width="0.08">4000</text>
<line x1="291.20" y1="149.08" x2="293.00" y2="149.08" stroke="#2a2a2a" stroke-width="0.9"/>
<text x="290.80" y="150.55" font-size="4.9" text-anchor="end" font-weight="bold" fill="#222" textLength="9.80" lengthAdjust="spacingAndGlyphs" stroke="#222" stroke-width="0.08">6000</text>
<line x1="291.20" y1="131.30" x2="293.00" y2="131.30" stroke="#2a2a2a" stroke-width="0.9"/>
<text x="290.80" y="132.77" font-size="4.9" text-anchor="end" font-weight="bold" fill="#222" textLength="9.80" lengthAdjust="spacingAndGlyphs" stroke="#222" stroke-width="0.08">8000</text>
<line x1="301.05" y1="197.10" x2="301.05" y2="195.30" stroke="#2a2a2a" stroke-width="0.9"/>
<line x1="298.15" y1="195.30" x2="303.95" y2="195.30" stroke="#2a2a2a" stroke-width="1.1"/>
<rect x="295.20" y="197.10" width="11.70" height="5.30" fill="#fff" stroke="#2a2a2a" stroke-width="0.9"/>
<line x1="316.80" y1="152.00" x2="316.80" y2="143.40" stroke="#2a2a2a" stroke-width="0.9"/>
<line x1="313.90" y1="143.40" x2="319.70" y2="143.40" stroke="#2a2a2a" stroke-width="1.1"/>
<rect x="311.40" y="152.00" width="10.80" height="50.40" fill="#1a1a1a" stroke="#2a2a2a" stroke-width="0.9"/>
<text x="272.60" y="165.95" font-size="5.2" text-anchor="middle" font-weight="bold" fill="#222" textLength="58.50" lengthAdjust="spacingAndGlyphs" transform="rotate(-90 272.60 165.95)" stroke="#222" stroke-width="0.08">IFN&#947; in TCSN (pg/ml)</text>
<line x1="374.20" y1="131.30" x2="374.20" y2="202.55" stroke="#2a2a2a" stroke-width="0.9"/>
<line x1="373.75" y1="202.10" x2="422.00" y2="202.10" stroke="#2a2a2a" stroke-width="0.9"/>
<line x1="372.40" y1="202.10" x2="374.20" y2="202.10" stroke="#2a2a2a" stroke-width="0.9"/>
<text x="372.00" y="203.57" font-size="4.9" text-anchor="end" font-weight="bold" fill="#222" textLength="2.45" lengthAdjust="spacingAndGlyphs" stroke="#222" stroke-width="0.08">0</text>
<line x1="372.40" y1="188.00" x2="374.20" y2="188.00" stroke="#2a2a2a" stroke-width="0.9"/>
<text x="372.00" y="189.47" font-size="4.9" text-anchor="end" font-weight="bold" fill="#222" textLength="4.90" lengthAdjust="spacingAndGlyphs" stroke="#222" stroke-width="0.08">20</text>
<line x1="372.40" y1="173.90" x2="374.20" y2="173.90" stroke="#2a2a2a" stroke-width="0.9"/>
<text x="372.00" y="175.37" font-size="4.9" text-anchor="end" font-weight="bold" fill="#222" textLength="4.90" lengthAdjust="spacingAndGlyphs" stroke="#222" stroke-width="0.08">40</text>
<line x1="372.40" y1="159.80" x2="374.20" y2="159.80" stroke="#2a2a2a" stroke-width="0.9"/>
<text x="372.00" y="161.27" font-size="4.9" text-anchor="end" font-weight="bold" fill="#222" textLength="4.90" lengthAdjust="spacingAndGlyphs" stroke="#222" stroke-width="0.08">60</text>
<line x1="372.40" y1="145.70" x2="374.20" y2="145.70" stroke="#2a2a2a" stroke-width="0.9"/>
<text x="372.00" y="147.17" font-size="4.9" text-anchor="end" font-weight="bold" fill="#222" textLength="4.90" lengthAdjust="spacingAndGlyphs" stroke="#222" stroke-width="0.08">80</text>
<line x1="372.40" y1="131.60" x2="374.20" y2="131.60" stroke="#2a2a2a" stroke-width="0.9"/>
<text x="372.00" y="133.07" font-size="4.9" text-anchor="end" font-weight="bold" fill="#222" textLength="7.35" lengthAdjust="spacingAndGlyphs" stroke="#222" stroke-width="0.08">100</text>
<line x1="382.80" y1="186.00" x2="382.80" y2="181.60" stroke="#2a2a2a" stroke-width="0.9"/>
<line x1="379.90" y1="181.60" x2="385.70" y2="181.60" stroke="#2a2a2a" stroke-width="1.1"/>
<rect x="377.50" y="186.00" width="10.60" height="16.10" fill="#fff" stroke="#2a2a2a" stroke-width="0.9"/>
<line x1="398.30" y1="144.00" x2="398.30" y2="143.50" stroke="#2a2a2a" stroke-width="0.9"/>
<line x1="395.40" y1="143.50" x2="401.20" y2="143.50" stroke="#2a2a2a" stroke-width="1.1"/>
<rect x="393.00" y="144.00" width="10.60" height="58.10" fill="#1a1a1a" stroke="#2a2a2a" stroke-width="0.9"/>
<line x1="413.90" y1="193.80" x2="413.90" y2="192.80" stroke="#2a2a2a" stroke-width="0.9"/>
<line x1="411.00" y1="192.80" x2="416.80" y2="192.80" stroke="#2a2a2a" stroke-width="1.1"/>
<rect x="408.30" y="193.80" width="11.20" height="8.30" fill="#cfcfcf" stroke="#2a2a2a" stroke-width="0.9"/>
<text x="358.90" y="165.30" font-size="5.2" text-anchor="middle" font-weight="bold" fill="#222" textLength="57.60" lengthAdjust="spacingAndGlyphs" transform="rotate(-90 358.90 165.30)" stroke="#222" stroke-width="0.08">TNF in TCSN (pg/ml)</text>
<rect x="426.20" y="131.20" width="50.40" height="27.30" fill="#fff" stroke="#444" stroke-width="0.8"/>
<rect x="429.00" y="134.40" width="7.60" height="3.60" fill="#fff" stroke="#222" stroke-width="0.7"/>
<text x="441.20" y="138.20" font-size="5.5" text-anchor="start" font-weight="normal" fill="#222" >Control allo</text>
<rect x="429.00" y="142.70" width="7.60" height="3.60" fill="#111" stroke="#222" stroke-width="0.7"/>
<text x="441.20" y="146.50" font-size="5.5" text-anchor="start" font-weight="normal" fill="#222" >M279 allo</text>
<rect x="429.00" y="150.90" width="7.60" height="3.60" fill="#c8c8c8" stroke="#222" stroke-width="0.7"/>
<text x="441.20" y="154.70" font-size="5.5" text-anchor="start" font-weight="normal" fill="#222" >M279 TCD</text>
<line x1="34.30" y1="239.70" x2="34.30" y2="298.05" stroke="#2a2a2a" stroke-width="0.9"/>
<line x1="33.85" y1="297.60" x2="72.00" y2="297.60" stroke="#2a2a2a" stroke-width="0.9"/>
<line x1="32.50" y1="297.60" x2="34.30" y2="297.60" stroke="#2a2a2a" stroke-width="0.9"/>
<text x="32.10" y="298.89" font-size="4.3" text-anchor="end" font-weight="bold" fill="#222" textLength="2.15" lengthAdjust="spacingAndGlyphs" stroke="#222" stroke-width="0.08">0</text>
<line x1="32.50" y1="286.08" x2="34.30" y2="286.08" stroke="#2a2a2a" stroke-width="0.9"/>
<text x="32.10" y="287.37" font-size="4.3" text-anchor="end" font-weight="bold" fill="#222" textLength="4.30" lengthAdjust="spacingAndGlyphs" stroke="#222" stroke-width="0.08">10</text>
<line x1="32.50" y1="274.56" x2="34.30" y2="274.56" stroke="#2a2a2a" stroke-width="0.9"/>
<text x="32.10" y="275.85" font-size="4.3" text-anchor="end" font-weight="bold" fill="#222" textLength="4.30" lengthAdjust="spacingAndGlyphs" stroke="#222" stroke-width="0.08">20</text>
<line x1="32.50" y1="263.04" x2="34.30" y2="263.04" stroke="#2a2a2a" stroke-width="0.9"/>
<text x="32.10" y="264.33" font-size="4.3" text-anchor="end" font-weight="bold" fill="#222" textLength="4.30" lengthAdjust="spacingAndGlyphs" stroke="#222" stroke-width="0.08">30</text>
<line x1="32.50" y1="251.52" x2="34.30" y2="251.52" stroke="#2a2a2a" stroke-width="0.9"/>
<text x="32.10" y="252.81" font-size="4.3" text-anchor="end" font-weight="bold" fill="#222" textLength="4.30" lengthAdjust="spacingAndGlyphs" stroke="#222" stroke-width="0.08">40</text>
<line x1="32.50" y1="240.00" x2="34.30" y2="240.00" stroke="#2a2a2a" stroke-width="0.9"/>
<text x="32.10" y="241.29" font-size="4.3" text-anchor="end" font-weight="bold" fill="#222" textLength="4.30" lengthAdjust="spacingAndGlyphs" stroke="#222" stroke-width="0.08">50</text>
<line x1="44.00" y1="261.20" x2="44.00" y2="260.50" stroke="#2a2a2a" stroke-width="0.9"/>
<line x1="41.10" y1="260.50" x2="46.90" y2="260.50" stroke="#2a2a2a" stroke-width="1.1"/>
<rect x="37.20" y="261.20" width="13.60" height="36.40" fill="#fff" stroke="#2a2a2a" stroke-width="0.9"/>
<line x1="62.90" y1="252.00" x2="62.90" y2="250.80" stroke="#2a2a2a" stroke-width="0.9"/>
<line x1="60.00" y1="250.80" x2="65.80" y2="250.80" stroke="#2a2a2a" stroke-width="1.1"/>
<rect x="56.80" y="252.00" width="12.20" height="45.60" fill="#1a1a1a" stroke="#2a2a2a" stroke-width="0.9"/>
<text x="22.40" y="269.10" font-size="4.6" text-anchor="middle" font-weight="bold" fill="#222" textLength="61.00" lengthAdjust="spacingAndGlyphs" transform="rotate(-90 22.40 269.10)" stroke="#222" stroke-width="0.08">% IFN&#947;<tspan baseline-shift="super" font-size="2.6">+</tspan> in CD4<tspan baseline-shift="super" font-size="2.6">+</tspan> T compartment</text>
<line x1="41.90" y1="243.50" x2="63.70" y2="243.50" stroke="#2a2a2a" stroke-width="0.9"/>
<circle cx="49.55" cy="240.00" r="0.95" fill="#1a1a1a"/>
<circle cx="52.80" cy="240.00" r="0.95" fill="#1a1a1a"/>
<circle cx="56.05" cy="240.00" r="0.95" fill="#1a1a1a"/>
<line x1="94.30" y1="240.10" x2="94.30" y2="298.05" stroke="#2a2a2a" stroke-width="0.9"/>
<line x1="93.85" y1="297.60" x2="132.50" y2="297.60" stroke="#2a2a2a" stroke-width="0.9"/>
<line x1="92.50" y1="297.60" x2="94.30" y2="297.60" stroke="#2a2a2a" stroke-width="0.9"/>
<text x="92.10" y="298.89" font-size="4.3" text-anchor="end" font-weight="bold" fill="#222" textLength="2.15" lengthAdjust="spacingAndGlyphs" stroke="#222" stroke-width="0.08">0</text>
<line x1="92.50" y1="286.16" x2="94.30" y2="286.16" stroke="#2a2a2a" stroke-width="0.9"/>
<text x="92.10" y="287.45" font-size="4.3" text-anchor="end" font-weight="bold" fill="#222" textLength="4.30" lengthAdjust="spacingAndGlyphs" stroke="#222" stroke-width="0.08">10</text>
<line x1="92.50" y1="274.72" x2="94.30" y2="274.72" stroke="#2a2a2a" stroke-width="0.9"/>
<text x="92.10" y="276.01" font-size="4.3" text-anchor="end" font-weight="bold" fill="#222" textLength="4.30" lengthAdjust="spacingAndGlyphs" stroke="#222" stroke-width="0.08">20</text>
<line x1="92.50" y1="263.28" x2="94.30" y2="263.28" stroke="#2a2a2a" stroke-width="0.9"/>
<text x="92.10" y="264.57" font-size="4.3" text-anchor="end" font-weight="bold" fill="#222" textLength="4.30" lengthAdjust="spacingAndGlyphs" stroke="#222" stroke-width="0.08">30</text>
<line x1="92.50" y1="251.84" x2="94.30" y2="251.84" stroke="#2a2a2a" stroke-width="0.9"/>
<text x="92.10" y="253.13" font-size="4.3" text-anchor="end" font-weight="bold" fill="#222" textLength="4.30" lengthAdjust="spacingAndGlyphs" stroke="#222" stroke-width="0.08">40</text>
<line x1="92.50" y1="240.40" x2="94.30" y2="240.40" stroke="#2a2a2a" stroke-width="0.9"/>
<text x="92.10" y="241.69" font-size="4.3" text-anchor="end" font-weight="bold" fill="#222" textLength="4.30" lengthAdjust="spacingAndGlyphs" stroke="#222" stroke-width="0.08">50</text>
<line x1="104.10" y1="268.30" x2="104.10" y2="267.50" stroke="#2a2a2a" stroke-width="0.9"/>
<line x1="101.20" y1="267.50" x2="107.00" y2="267.50" stroke="#2a2a2a" stroke-width="1.1"/>
<rect x="97.50" y="268.30" width="13.20" height="29.30" fill="#fff" stroke="#2a2a2a" stroke-width="0.9"/>
<line x1="123.05" y1="250.90" x2="123.05" y2="249.50" stroke="#2a2a2a" stroke-width="0.9"/>
<line x1="120.15" y1="249.50" x2="125.95" y2="249.50" stroke="#2a2a2a" stroke-width="1.1"/>
<rect x="117.10" y="250.90" width="11.90" height="46.70" fill="#1a1a1a" stroke="#2a2a2a" stroke-width="0.9"/>
<text x="83.20" y="267.75" font-size="4.6" text-anchor="middle" font-weight="bold" fill="#222" textLength="58.50" lengthAdjust="spacingAndGlyphs" transform="rotate(-90 83.20 267.75)" stroke="#222" stroke-width="0.08">% TNF<tspan baseline-shift="super" font-size="2.6">+</tspan> in CD4<tspan baseline-shift="super" font-size="2.6">+</tspan> T compartment</text>
<line x1="103.50" y1="240.50" x2="123.70" y2="240.50" stroke="#2a2a2a" stroke-width="0.9"/>
<circle cx="110.35" cy="237.00" r="0.95" fill="#1a1a1a"/>
<circle cx="113.60" cy="237.00" r="0.95" fill="#1a1a1a"/>
<circle cx="116.85" cy="237.00" r="0.95" fill="#1a1a1a"/>
<line x1="34.30" y1="313.00" x2="34.30" y2="370.65" stroke="#2a2a2a" stroke-width="0.9"/>
<line x1="33.85" y1="370.20" x2="72.20" y2="370.20" stroke="#2a2a2a" stroke-width="0.9"/>
<line x1="32.50" y1="370.20" x2="34.30" y2="370.20" stroke="#2a2a2a" stroke-width="0.9"/>
<text x="32.10" y="371.49" font-size="4.3" text-anchor="end" font-weight="bold" fill="#222" textLength="2.15" lengthAdjust="spacingAndGlyphs" stroke="#222" stroke-width="0.08">0</text>
<line x1="32.50" y1="358.82" x2="34.30" y2="358.82" stroke="#2a2a2a" stroke-width="0.9"/>
<text x="32.10" y="360.11" font-size="4.3" text-anchor="end" font-weight="bold" fill="#222" textLength="4.30" lengthAdjust="spacingAndGlyphs" stroke="#222" stroke-width="0.08">10</text>
<line x1="32.50" y1="347.44" x2="34.30" y2="347.44" stroke="#2a2a2a" stroke-width="0.9"/>
<text x="32.10" y="348.73" font-size="4.3" text-anchor="end" font-weight="bold" fill="#222" textLength="4.30" lengthAdjust="spacingAndGlyphs" stroke="#222" stroke-width="0.08">20</text>
<line x1="32.50" y1="336.06" x2="34.30" y2="336.06" stroke="#2a2a2a" stroke-width="0.9"/>
<text x="32.10" y="337.35" font-size="4.3" text-anchor="end" font-weight="bold" fill="#222" textLength="4.30" lengthAdjust="spacingAndGlyphs" stroke="#222" stroke-width="0.08">30</text>
<line x1="32.50" y1="324.68" x2="34.30" y2="324.68" stroke="#2a2a2a" stroke-width="0.9"/>
<text x="32.10" y="325.97" font-size="4.3" text-anchor="end" font-weight="bold" fill="#222" textLength="4.30" lengthAdjust="spacingAndGlyphs" stroke="#222" stroke-width="0.08">40</text>
<line x1="32.50" y1="313.30" x2="34.30" y2="313.30" stroke="#2a2a2a" stroke-width="0.9"/>
<text x="32.10" y="314.59" font-size="4.3" text-anchor="end" font-weight="bold" fill="#222" textLength="4.30" lengthAdjust="spacingAndGlyphs" stroke="#222" stroke-width="0.08">50</text>
<line x1="44.00" y1="343.20" x2="44.00" y2="342.30" stroke="#2a2a2a" stroke-width="0.9"/>
<line x1="41.10" y1="342.30" x2="46.90" y2="342.30" stroke="#2a2a2a" stroke-width="1.1"/>
<rect x="37.40" y="343.20" width="13.20" height="27.00" fill="#fff" stroke="#2a2a2a" stroke-width="0.9"/>
<line x1="62.90" y1="317.30" x2="62.90" y2="316.20" stroke="#2a2a2a" stroke-width="0.9"/>
<line x1="60.00" y1="316.20" x2="65.80" y2="316.20" stroke="#2a2a2a" stroke-width="1.1"/>
<rect x="56.80" y="317.30" width="12.20" height="52.90" fill="#1a1a1a" stroke="#2a2a2a" stroke-width="0.9"/>
<text x="22.40" y="341.80" font-size="4.6" text-anchor="middle" font-weight="bold" fill="#222" textLength="62.00" lengthAdjust="spacingAndGlyphs" transform="rotate(-90 22.40 341.80)" stroke="#222" stroke-width="0.08">% IFN&#947;<tspan baseline-shift="super" font-size="2.6">+</tspan> in CD8<tspan baseline-shift="super" font-size="2.6">+</tspan> T compartment</text>
<line x1="40.90" y1="310.50" x2="61.60" y2="310.50" stroke="#2a2a2a" stroke-width="0.9"/>
<circle cx="47.75" cy="307.60" r="0.95" fill="#1a1a1a"/>
<circle cx="51.00" cy="307.60" r="0.95" fill="#1a1a1a"/>
<circle cx="54.25" cy="307.60" r="0.95" fill="#1a1a1a"/>
<line x1="94.40" y1="313.00" x2="94.40" y2="371.05" stroke="#2a2a2a" stroke-width="0.9"/>
<line x1="93.95" y1="370.60" x2="132.60" y2="370.60" stroke="#2a2a2a" stroke-width="0.9"/>
<line x1="92.60" y1="370.60" x2="94.40" y2="370.60" stroke="#2a2a2a" stroke-width="0.9"/>
<text x="92.20" y="371.89" font-size="4.3" text-anchor="end" font-weight="bold" fill="#222" textLength="2.15" lengthAdjust="spacingAndGlyphs" stroke="#222" stroke-width="0.08">0</text>
<line x1="92.60" y1="351.50" x2="94.40" y2="351.50" stroke="#2a2a2a" stroke-width="0.9"/>
<text x="92.20" y="352.79" font-size="4.3" text-anchor="end" font-weight="bold" fill="#222" textLength="4.30" lengthAdjust="spacingAndGlyphs" stroke="#222" stroke-width="0.08">10</text>
<line x1="92.60" y1="332.40" x2="94.40" y2="332.40" stroke="#2a2a2a" stroke-width="0.9"/>
<text x="92.20" y="333.69" font-size="4.3" text-anchor="end" font-weight="bold" fill="#222" textLength="4.30" lengthAdjust="spacingAndGlyphs" stroke="#222" stroke-width="0.08">20</text>
<line x1="92.60" y1="313.30" x2="94.40" y2="313.30" stroke="#2a2a2a" stroke-width="0.9"/>
<text x="92.20" y="314.59" font-size="4.3" text-anchor="end" font-weight="bold" fill="#222" textLength="4.30" lengthAdjust="spacingAndGlyphs" stroke="#222" stroke-width="0.08">30</text>
<line x1="103.95" y1="359.20" x2="103.95" y2="358.50" stroke="#2a2a2a" stroke-width="0.9"/>
<line x1="101.05" y1="358.50" x2="106.85" y2="358.50" stroke="#2a2a2a" stroke-width="1.1"/>
<rect x="97.30" y="359.20" width="13.30" height="11.40" fill="#fff" stroke="#2a2a2a" stroke-width="0.9"/>
<line x1="123.10" y1="324.60" x2="123.10" y2="322.80" stroke="#2a2a2a" stroke-width="0.9"/>
<line x1="120.20" y1="322.80" x2="126.00" y2="322.80" stroke="#2a2a2a" stroke-width="1.1"/>
<rect x="117.20" y="324.60" width="11.80" height="46.00" fill="#1a1a1a" stroke="#2a2a2a" stroke-width="0.9"/>
<text x="83.20" y="340.80" font-size="4.6" text-anchor="middle" font-weight="bold" fill="#222" textLength="59.20" lengthAdjust="spacingAndGlyphs" transform="rotate(-90 83.20 340.80)" stroke="#222" stroke-width="0.08">% TNF<tspan baseline-shift="super" font-size="2.6">+</tspan> in CD8<tspan baseline-shift="super" font-size="2.6">+</tspan> T compartment</text>
<line x1="103.00" y1="318.50" x2="123.70" y2="318.50" stroke="#2a2a2a" stroke-width="0.9"/>
<circle cx="110.35" cy="314.30" r="0.95" fill="#1a1a1a"/>
<circle cx="113.60" cy="314.30" r="0.95" fill="#1a1a1a"/>
<circle cx="116.85" cy="314.30" r="0.95" fill="#1a1a1a"/>
<rect x="134.30" y="259.20" width="47.50" height="19.10" fill="#fff" stroke="#444" stroke-width="0.8"/>
<rect x="138.30" y="262.50" width="6.30" height="3.60" fill="#fff" stroke="#222" stroke-width="0.7"/>
<text x="148.10" y="266.30" font-size="5.4" text-anchor="start" font-weight="normal" fill="#222" >Control allo</text>
<rect x="138.30" y="270.20" width="6.30" height="3.60" fill="#111" stroke="#222" stroke-width="0.7"/>
<text x="148.10" y="274.00" font-size="5.4" text-anchor="start" font-weight="normal" fill="#222" >M279 allo</text>
<text x="198.70" y="248.70" font-size="11" text-anchor="start" font-weight="normal" fill="#222" >SP</text>
<text x="198.70" y="321.60" font-size="11" text-anchor="start" font-weight="normal" fill="#222" >LN</text>
<text x="224.30" y="229.00" font-size="7.4" text-anchor="start" font-weight="bold" fill="#222" textLength="48.80" lengthAdjust="spacingAndGlyphs" >CD4 effectors</text>
<text x="305.10" y="228.90" font-size="7.4" text-anchor="start" font-weight="bold" fill="#222" textLength="30.60" lengthAdjust="spacingAndGlyphs" >CD4<tspan baseline-shift="2.2" font-size="4.2">+</tspan>T<tspan baseline-shift="-2" font-size="5.2">reg</tspan></text>
<text x="349.60" y="228.90" font-size="7.4" text-anchor="start" font-weight="bold" fill="#222" textLength="59.00" lengthAdjust="spacingAndGlyphs" >CD4 T<tspan baseline-shift="-2" font-size="5.2">reg</tspan>/effector</text>
<line x1="235.30" y1="236.50" x2="235.30" y2="299.15" stroke="#2a2a2a" stroke-width="0.9"/>
<line x1="234.85" y1="298.70" x2="271.70" y2="298.70" stroke="#2a2a2a" stroke-width="0.9"/>
<line x1="233.50" y1="298.70" x2="235.30" y2="298.70" stroke="#2a2a2a" stroke-width="0.9"/>
<text x="233.10" y="300.02" font-size="4.4" text-anchor="end" font-weight="bold" fill="#222" textLength="2.20" lengthAdjust="spacingAndGlyphs" stroke="#222" stroke-width="0.08">0</text>
<line x1="233.50" y1="283.23" x2="235.30" y2="283.23" stroke="#2a2a2a" stroke-width="0.9"/>
<text x="233.10" y="284.55" font-size="4.4" text-anchor="end" font-weight="bold" fill="#222" textLength="2.20" lengthAdjust="spacingAndGlyphs" stroke="#222" stroke-width="0.08">1</text>
<line x1="233.50" y1="267.75" x2="235.30" y2="267.75" stroke="#2a2a2a" stroke-width="0.9"/>
<text x="233.10" y="269.07" font-size="4.4" text-anchor="end" font-weight="bold" fill="#222" textLength="2.20" lengthAdjust="spacingAndGlyphs" stroke="#222" stroke-width="0.08">2</text>
<line x1="233.50" y1="252.28" x2="235.30" y2="252.28" stroke="#2a2a2a" stroke-width="0.9"/>
<text x="233.10" y="253.59" font-size="4.4" text-anchor="end" font-weight="bold" fill="#222" textLength="2.20" lengthAdjust="spacingAndGlyphs" stroke="#222" stroke-width="0.08">3</text>
<line x1="233.50" y1="236.80" x2="235.30" y2="236.80" stroke="#2a2a2a" stroke-width="0.9"/>
<text x="233.10" y="238.12" font-size="4.4" text-anchor="end" font-weight="bold" fill="#222" textLength="2.20" lengthAdjust="spacingAndGlyphs" stroke="#222" stroke-width="0.08">4</text>
<line x1="244.50" y1="256.20" x2="244.50" y2="249.60" stroke="#2a2a2a" stroke-width="0.9"/>
<line x1="241.60" y1="249.60" x2="247.40" y2="249.60" stroke="#2a2a2a" stroke-width="1.1"/>
<rect x="238.30" y="256.20" width="12.40" height="42.50" fill="#fff" stroke="#2a2a2a" stroke-width="0.9"/>
<line x1="263.00" y1="260.80" x2="263.00" y2="254.40" stroke="#2a2a2a" stroke-width="0.9"/>
<line x1="260.10" y1="254.40" x2="265.90" y2="254.40" stroke="#2a2a2a" stroke-width="1.1"/>
<rect x="257.10" y="260.80" width="11.80" height="37.90" fill="#1a1a1a" stroke="#2a2a2a" stroke-width="0.9"/>
<text x="228.40" y="268.25" font-size="5.0" text-anchor="middle" font-weight="normal" fill="#222" textLength="29.50" lengthAdjust="spacingAndGlyphs" transform="rotate(-90 228.40 268.25)" stroke="#222" stroke-width="0.08">#SP (x10<tspan baseline-shift="super" font-size="3">-4</tspan>)</text>
<line x1="301.20" y1="236.30" x2="301.20" y2="299.15" stroke="#2a2a2a" stroke-width="0.9"/>
<line x1="300.75" y1="298.70" x2="337.20" y2="298.70" stroke="#2a2a2a" stroke-width="0.9"/>
<line x1="299.40" y1="298.70" x2="301.20" y2="298.70" stroke="#2a2a2a" stroke-width="0.9"/>
<text x="299.00" y="300.02" font-size="4.4" text-anchor="end" font-weight="bold" fill="#222" textLength="7.70" lengthAdjust="spacingAndGlyphs" stroke="#222" stroke-width="0.08">0.00</text>
<line x1="299.40" y1="283.18" x2="301.20" y2="283.18" stroke="#2a2a2a" stroke-width="0.9"/>
<text x="299.00" y="284.50" font-size="4.4" text-anchor="end" font-weight="bold" fill="#222" textLength="7.70" lengthAdjust="spacingAndGlyphs" stroke="#222" stroke-width="0.08">0.02</text>
<line x1="299.40" y1="267.65" x2="301.20" y2="267.65" stroke="#2a2a2a" stroke-width="0.9"/>
<text x="299.00" y="268.97" font-size="4.4" text-anchor="end" font-weight="bold" fill="#222" textLength="7.70" lengthAdjust="spacingAndGlyphs" stroke="#222" stroke-width="0.08">0.04</text>
<line x1="299.40" y1="252.12" x2="301.20" y2="252.12" stroke="#2a2a2a" stroke-width="0.9"/>
<text x="299.00" y="253.44" font-size="4.4" text-anchor="end" font-weight="bold" fill="#222" textLength="7.70" lengthAdjust="spacingAndGlyphs" stroke="#222" stroke-width="0.08">0.06</text>
<line x1="299.40" y1="236.60" x2="301.20" y2="236.60" stroke="#2a2a2a" stroke-width="0.9"/>
<text x="299.00" y="237.92" font-size="4.4" text-anchor="end" font-weight="bold" fill="#222" textLength="7.70" lengthAdjust="spacingAndGlyphs" stroke="#222" stroke-width="0.08">0.08</text>
<line x1="310.55" y1="257.30" x2="310.55" y2="253.10" stroke="#2a2a2a" stroke-width="0.9"/>
<line x1="307.65" y1="253.10" x2="313.45" y2="253.10" stroke="#2a2a2a" stroke-width="1.1"/>
<rect x="304.30" y="257.30" width="12.50" height="41.40" fill="#fff" stroke="#2a2a2a" stroke-width="0.9"/>
<line x1="328.70" y1="274.20" x2="328.70" y2="267.90" stroke="#2a2a2a" stroke-width="0.9"/>
<line x1="325.80" y1="267.90" x2="331.60" y2="267.90" stroke="#2a2a2a" stroke-width="1.1"/>
<rect x="322.60" y="274.20" width="12.20" height="24.50" fill="#1a1a1a" stroke="#2a2a2a" stroke-width="0.9"/>
<text x="287.40" y="268.25" font-size="5.0" text-anchor="middle" font-weight="normal" fill="#222" textLength="29.50" lengthAdjust="spacingAndGlyphs" transform="rotate(-90 287.40 268.25)" stroke="#222" stroke-width="0.08">#SP (x10<tspan baseline-shift="super" font-size="3">-4</tspan>)</text>
<line x1="367.20" y1="236.30" x2="367.20" y2="299.15" stroke="#2a2a2a" stroke-width="0.9"/>
<line x1="366.75" y1="298.70" x2="404.00" y2="298.70" stroke="#2a2a2a" stroke-width="0.9"/>
<line x1="365.40" y1="298.70" x2="367.20" y2="298.70" stroke="#2a2a2a" stroke-width="0.9"/>
<text x="365.00" y="300.02" font-size="4.4" text-anchor="end" font-weight="bold" fill="#222" textLength="9.90" lengthAdjust="spacingAndGlyphs" stroke="#222" stroke-width="0.08">0.000</text>
<line x1="365.40" y1="286.28" x2="367.20" y2="286.28" stroke="#2a2a2a" stroke-width="0.9"/>
<text x="365.00" y="287.60" font-size="4.4" text-anchor="end" font-weight="bold" fill="#222" textLength="9.90" lengthAdjust="spacingAndGlyphs" stroke="#222" stroke-width="0.08">0.005</text>
<line x1="365.40" y1="273.86" x2="367.20" y2="273.86" stroke="#2a2a2a" stroke-width="0.9"/>
<text x="365.00" y="275.18" font-size="4.4" text-anchor="end" font-weight="bold" fill="#222" textLength="9.90" lengthAdjust="spacingAndGlyphs" stroke="#222" stroke-width="0.08">0.010</text>
<line x1="365.40" y1="261.44" x2="367.20" y2="261.44" stroke="#2a2a2a" stroke-width="0.9"/>
<text x="365.00" y="262.76" font-size="4.4" text-anchor="end" font-weight="bold" fill="#222" textLength="9.90" lengthAdjust="spacingAndGlyphs" stroke="#222" stroke-width="0.08">0.015</text>
<line x1="365.40" y1="249.02" x2="367.20" y2="249.02" stroke="#2a2a2a" stroke-width="0.9"/>
<text x="365.00" y="250.34" font-size="4.4" text-anchor="end" font-weight="bold" fill="#222" textLength="9.90" lengthAdjust="spacingAndGlyphs" stroke="#222" stroke-width="0.08">0.020</text>
<line x1="365.40" y1="236.60" x2="367.20" y2="236.60" stroke="#2a2a2a" stroke-width="0.9"/>
<text x="365.00" y="237.92" font-size="4.4" text-anchor="end" font-weight="bold" fill="#222" textLength="9.90" lengthAdjust="spacingAndGlyphs" stroke="#222" stroke-width="0.08">0.025</text>
<line x1="376.60" y1="249.10" x2="376.60" y2="246.50" stroke="#2a2a2a" stroke-width="0.9"/>
<line x1="373.70" y1="246.50" x2="379.50" y2="246.50" stroke="#2a2a2a" stroke-width="1.1"/>
<rect x="370.40" y="249.10" width="12.40" height="49.60" fill="#fff" stroke="#2a2a2a" stroke-width="0.9"/>
<line x1="395.00" y1="267.70" x2="395.00" y2="265.00" stroke="#2a2a2a" stroke-width="0.9"/>
<line x1="392.10" y1="265.00" x2="397.90" y2="265.00" stroke="#2a2a2a" stroke-width="1.1"/>
<rect x="389.00" y="267.70" width="12.00" height="31.00" fill="#1a1a1a" stroke="#2a2a2a" stroke-width="0.9"/>
<text x="351.60" y="267.40" font-size="5.0" text-anchor="middle" font-weight="normal" fill="#222" textLength="44.20" lengthAdjust="spacingAndGlyphs" transform="rotate(-90 351.60 267.40)" stroke="#222" stroke-width="0.08">Treg/Effector ratio</text>
<line x1="235.40" y1="306.80" x2="235.40" y2="371.65" stroke="#2a2a2a" stroke-width="0.9"/>
<line x1="234.95" y1="371.20" x2="272.60" y2="371.20" stroke="#2a2a2a" stroke-width="0.9"/>
<line x1="233.60" y1="371.20" x2="235.40" y2="371.20" stroke="#2a2a2a" stroke-width="0.9"/>
<text x="233.20" y="372.52" font-size="4.4" text-anchor="end" font-weight="bold" fill="#222" textLength="5.50" lengthAdjust="spacingAndGlyphs" stroke="#222" stroke-width="0.08">0.0</text>
<line x1="233.60" y1="355.18" x2="235.40" y2="355.18" stroke="#2a2a2a" stroke-width="0.9"/>
<text x="233.20" y="356.50" font-size="4.4" text-anchor="end" font-weight="bold" fill="#222" textLength="5.50" lengthAdjust="spacingAndGlyphs" stroke="#222" stroke-width="0.08">0.2</text>
<line x1="233.60" y1="339.15" x2="235.40" y2="339.15" stroke="#2a2a2a" stroke-width="0.9"/>
<text x="233.20" y="340.47" font-size="4.4" text-anchor="end" font-weight="bold" fill="#222" textLength="5.50" lengthAdjust="spacingAndGlyphs" stroke="#222" stroke-width="0.08">0.4</text>
<line x1="233.60" y1="323.12" x2="235.40" y2="323.12" stroke="#2a2a2a" stroke-width="0.9"/>
<text x="233.20" y="324.44" font-size="4.4" text-anchor="end" font-weight="bold" fill="#222" textLength="5.50" lengthAdjust="spacingAndGlyphs" stroke="#222" stroke-width="0.08">0.6</text>
<line x1="233.60" y1="307.10" x2="235.40" y2="307.10" stroke="#2a2a2a" stroke-width="0.9"/>
<text x="233.20" y="308.42" font-size="4.4" text-anchor="end" font-weight="bold" fill="#222" textLength="5.50" lengthAdjust="spacingAndGlyphs" stroke="#222" stroke-width="0.08">0.8</text>
<line x1="244.45" y1="315.30" x2="244.45" y2="312.60" stroke="#2a2a2a" stroke-width="0.9"/>
<line x1="241.55" y1="312.60" x2="247.35" y2="312.60" stroke="#2a2a2a" stroke-width="1.1"/>
<rect x="238.20" y="315.30" width="12.50" height="55.90" fill="#fff" stroke="#2a2a2a" stroke-width="0.9"/>
<line x1="263.35" y1="331.50" x2="263.35" y2="322.00" stroke="#2a2a2a" stroke-width="0.9"/>
<line x1="260.45" y1="322.00" x2="266.25" y2="322.00" stroke="#2a2a2a" stroke-width="1.1"/>
<rect x="257.20" y="331.50" width="12.30" height="39.70" fill="#1a1a1a" stroke="#2a2a2a" stroke-width="0.9"/>
<text x="224.50" y="339.25" font-size="5.0" text-anchor="middle" font-weight="normal" fill="#222" textLength="38.30" lengthAdjust="spacingAndGlyphs" transform="rotate(-90 224.50 339.25)" stroke="#222" stroke-width="0.08">#animal (x10<tspan baseline-shift="super" font-size="3">-4</tspan>)</text>
<line x1="302.00" y1="306.90" x2="302.00" y2="371.65" stroke="#2a2a2a" stroke-width="0.9"/>
<line x1="301.55" y1="371.20" x2="339.60" y2="371.20" stroke="#2a2a2a" stroke-width="0.9"/>
<line x1="300.20" y1="371.20" x2="302.00" y2="371.20" stroke="#2a2a2a" stroke-width="0.9"/>
<text x="299.80" y="372.52" font-size="4.4" text-anchor="end" font-weight="bold" fill="#222" textLength="7.70" lengthAdjust="spacingAndGlyphs" stroke="#222" stroke-width="0.08">0.00</text>
<line x1="300.20" y1="349.87" x2="302.00" y2="349.87" stroke="#2a2a2a" stroke-width="0.9"/>
<text x="299.80" y="351.19" font-size="4.4" text-anchor="end" font-weight="bold" fill="#222" textLength="7.70" lengthAdjust="spacingAndGlyphs" stroke="#222" stroke-width="0.08">0.01</text>
<line x1="300.20" y1="328.53" x2="302.00" y2="328.53" stroke="#2a2a2a" stroke-width="0.9"/>
<text x="299.80" y="329.85" font-size="4.4" text-anchor="end" font-weight="bold" fill="#222" textLength="7.70" lengthAdjust="spacingAndGlyphs" stroke="#222" stroke-width="0.08">0.02</text>
<line x1="300.20" y1="307.20" x2="302.00" y2="307.20" stroke="#2a2a2a" stroke-width="0.9"/>
<text x="299.80" y="308.52" font-size="4.4" text-anchor="end" font-weight="bold" fill="#222" textLength="7.70" lengthAdjust="spacingAndGlyphs" stroke="#222" stroke-width="0.08">0.03</text>
<line x1="311.40" y1="317.90" x2="311.40" y2="315.60" stroke="#2a2a2a" stroke-width="0.9"/>
<line x1="308.50" y1="315.60" x2="314.30" y2="315.60" stroke="#2a2a2a" stroke-width="1.1"/>
<rect x="305.00" y="317.90" width="12.80" height="53.30" fill="#fff" stroke="#2a2a2a" stroke-width="0.9"/>
<line x1="330.10" y1="353.20" x2="330.10" y2="347.90" stroke="#2a2a2a" stroke-width="0.9"/>
<line x1="327.20" y1="347.90" x2="333.00" y2="347.90" stroke="#2a2a2a" stroke-width="1.1"/>
<rect x="324.20" y="353.20" width="11.80" height="18.00" fill="#1a1a1a" stroke="#2a2a2a" stroke-width="0.9"/>
<text x="287.00" y="339.55" font-size="5.0" text-anchor="middle" font-weight="normal" fill="#222" textLength="37.70" lengthAdjust="spacingAndGlyphs" transform="rotate(-90 287.00 339.55)" stroke="#222" stroke-width="0.08">#animal (x10<tspan baseline-shift="super" font-size="3">-4</tspan>)</text>
<line x1="368.80" y1="306.70" x2="368.80" y2="371.45" stroke="#2a2a2a" stroke-width="0.9"/>
<line x1="368.35" y1="371.00" x2="406.40" y2="371.00" stroke="#2a2a2a" stroke-width="0.9"/>
<line x1="367.00" y1="371.00" x2="368.80" y2="371.00" stroke="#2a2a2a" stroke-width="0.9"/>
<text x="366.60" y="372.32" font-size="4.4" text-anchor="end" font-weight="bold" fill="#222" textLength="7.70" lengthAdjust="spacingAndGlyphs" stroke="#222" stroke-width="0.08">0.00</text>
<line x1="367.00" y1="355.00" x2="368.80" y2="355.00" stroke="#2a2a2a" stroke-width="0.9"/>
<text x="366.60" y="356.32" font-size="4.4" text-anchor="end" font-weight="bold" fill="#222" textLength="7.70" lengthAdjust="spacingAndGlyphs" stroke="#222" stroke-width="0.08">0.01</text>
<line x1="367.00" y1="339.00" x2="368.80" y2="339.00" stroke="#2a2a2a" stroke-width="0.9"/>
<text x="366.60" y="340.32" font-size="4.4" text-anchor="end" font-weight="bold" fill="#222" textLength="7.70" lengthAdjust="spacingAndGlyphs" stroke="#222" stroke-width="0.08">0.02</text>
<line x1="367.00" y1="323.00" x2="368.80" y2="323.00" stroke="#2a2a2a" stroke-width="0.9"/>
<text x="366.60" y="324.32" font-size="4.4" text-anchor="end" font-weight="bold" fill="#222" textLength="7.70" lengthAdjust="spacingAndGlyphs" stroke="#222" stroke-width="0.08">0.03</text>
<line x1="367.00" y1="307.00" x2="368.80" y2="307.00" stroke="#2a2a2a" stroke-width="0.9"/>
<text x="366.60" y="308.32" font-size="4.4" text-anchor="end" font-weight="bold" fill="#222" textLength="7.70" lengthAdjust="spacingAndGlyphs" stroke="#222" stroke-width="0.08">0.04</text>
<line x1="378.10" y1="313.90" x2="378.10" y2="311.60" stroke="#2a2a2a" stroke-width="0.9"/>
<line x1="375.20" y1="311.60" x2="381.00" y2="311.60" stroke="#2a2a2a" stroke-width="1.1"/>
<rect x="371.70" y="313.90" width="12.80" height="57.10" fill="#fff" stroke="#2a2a2a" stroke-width="0.9"/>
<line x1="396.95" y1="345.20" x2="396.95" y2="342.70" stroke="#2a2a2a" stroke-width="0.9"/>
<line x1="394.05" y1="342.70" x2="399.85" y2="342.70" stroke="#2a2a2a" stroke-width="1.1"/>
<rect x="390.80" y="345.20" width="12.30" height="25.80" fill="#1a1a1a" stroke="#2a2a2a" stroke-width="0.9"/>
<text x="356.20" y="337.50" font-size="5.0" text-anchor="middle" font-weight="normal" fill="#222" textLength="49.00" lengthAdjust="spacingAndGlyphs" transform="rotate(-90 356.20 337.50)" stroke="#222" stroke-width="0.08">Treg/Effector ratio</text>
<rect x="406.70" y="236.20" width="43.10" height="20.00" fill="#fff" stroke="#444" stroke-width="0.8"/>
<rect x="409.50" y="239.90" width="6.50" height="3.60" fill="#fff" stroke="#222" stroke-width="0.7"/>
<text x="419.00" y="243.70" font-size="5.4" text-anchor="start" font-weight="normal" fill="#222" >Control allo</text>
<rect x="409.50" y="247.70" width="6.50" height="3.60" fill="#111" stroke="#222" stroke-width="0.7"/>
<text x="419.00" y="251.50" font-size="5.4" text-anchor="start" font-weight="normal" fill="#222" >M279 allo</text>
</svg>
</body></html>
